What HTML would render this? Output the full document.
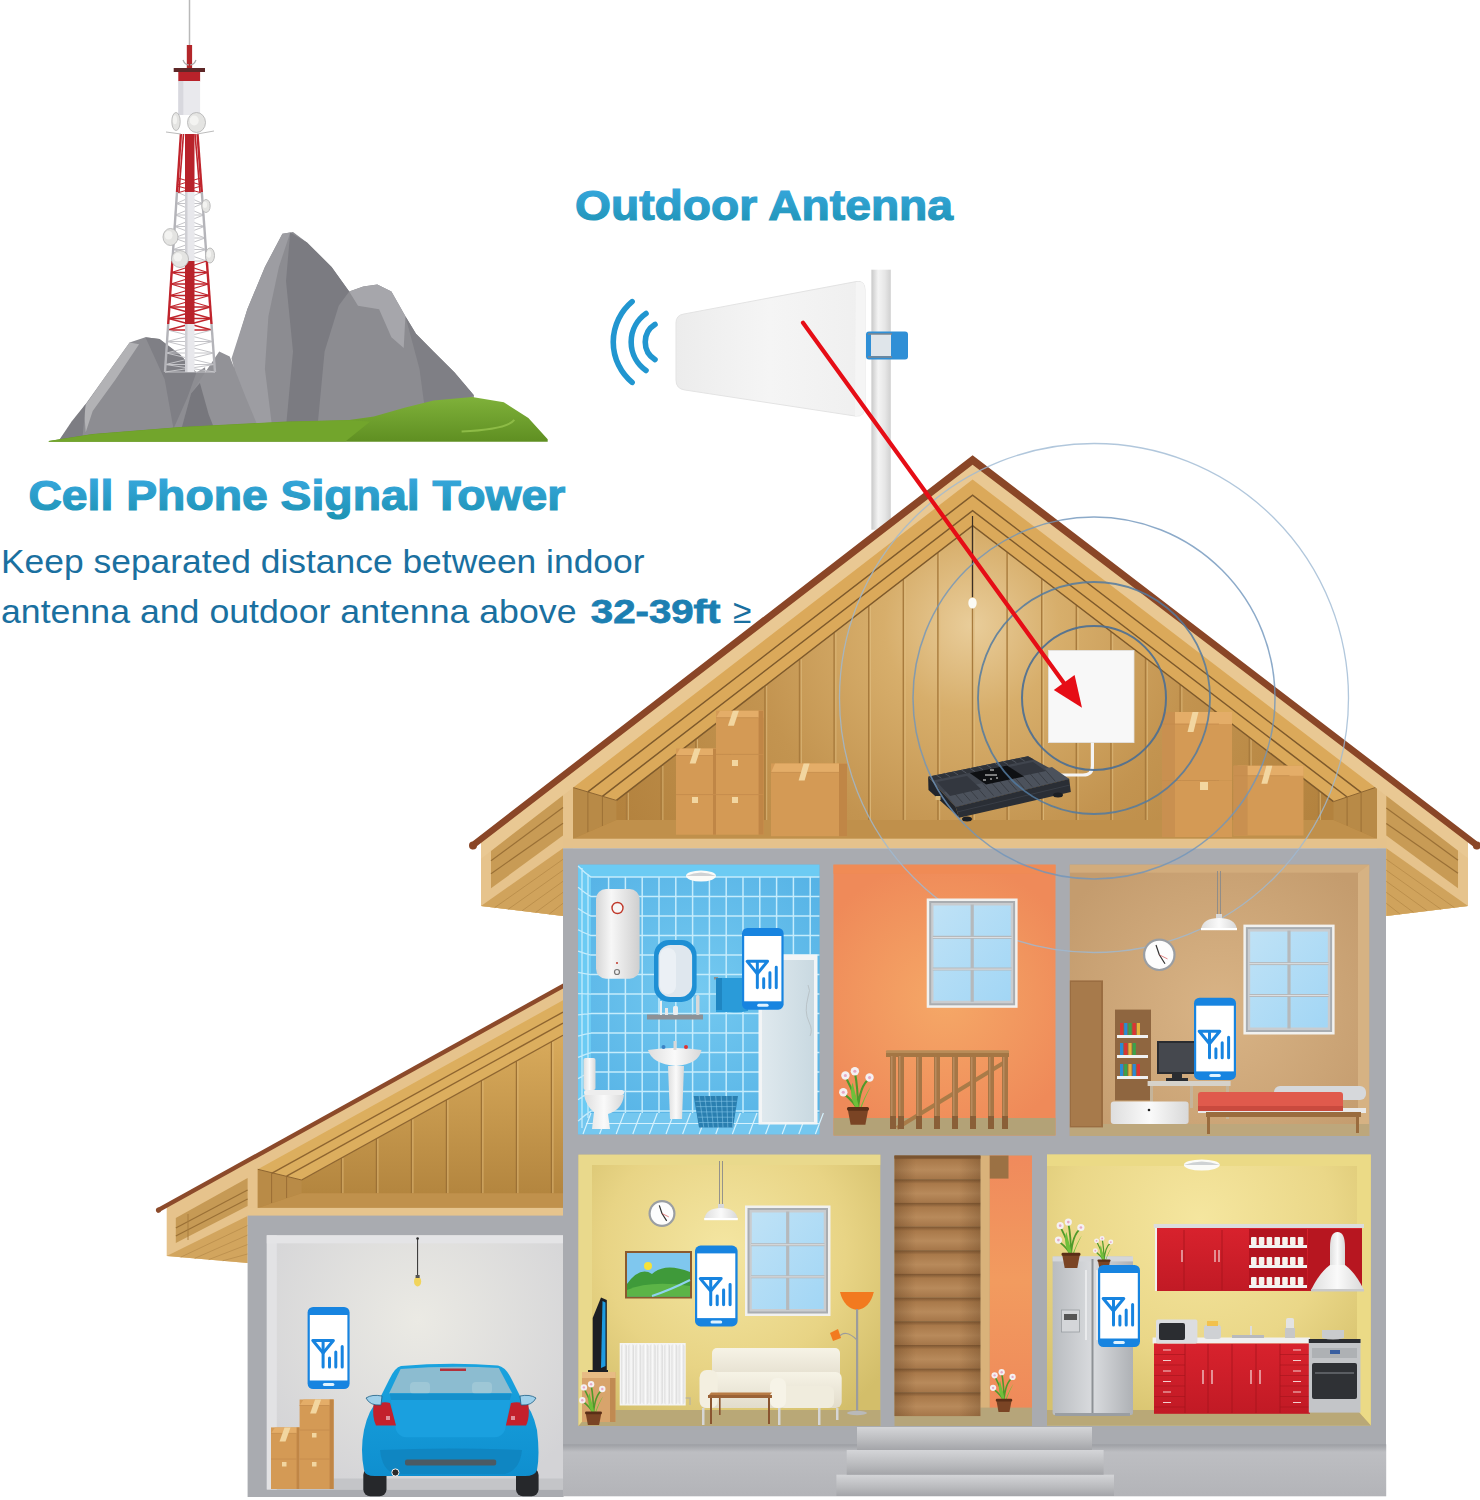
<!DOCTYPE html><html><head><meta charset="utf-8"><style>html,body{margin:0;padding:0;background:#fff;overflow:hidden}svg{display:block}</style></head><body><svg width="1480" height="1500" viewBox="0 0 1480 1500"><defs>
<linearGradient id="txtg" x1="0" y1="0" x2="0" y2="1"><stop offset="0" stop-color="#3aa9e2"/><stop offset="1" stop-color="#1d93b3"/></linearGradient>
<linearGradient id="poleg" x1="0" y1="0" x2="1" y2="0"><stop offset="0" stop-color="#c9c9c9"/><stop offset="0.35" stop-color="#f4f4f4"/><stop offset="0.7" stop-color="#e6e6e6"/><stop offset="1" stop-color="#d0d0d0"/></linearGradient>
<linearGradient id="antg" x1="0" y1="0" x2="1" y2="0"><stop offset="0" stop-color="#ececec"/><stop offset="0.5" stop-color="#f5f5f5"/><stop offset="1" stop-color="#efefef"/></linearGradient>
<radialGradient id="atticg" cx="972" cy="625" r="400" gradientUnits="userSpaceOnUse"><stop offset="0" stop-color="#e9cd9a"/><stop offset="0.22" stop-color="#d7ae6b"/><stop offset="0.55" stop-color="#c39450"/><stop offset="1" stop-color="#b3823e"/></radialGradient>
<linearGradient id="studg" x1="0" y1="0" x2="0" y2="1"><stop offset="0" stop-color="#d8ad62"/><stop offset="1" stop-color="#b8883f"/></linearGradient>
<radialGradient id="orangeg" cx="945" cy="1000" r="140" gradientUnits="userSpaceOnUse"><stop offset="0" stop-color="#f5a867"/><stop offset="1" stop-color="#ef8a59"/></radialGradient>
<radialGradient id="bedg" cx="1220" cy="1010" r="180" gradientUnits="userSpaceOnUse"><stop offset="0" stop-color="#d9b486"/><stop offset="1" stop-color="#c49c6e"/></radialGradient>
<radialGradient id="liveg" cx="725" cy="1250" r="200" gradientUnits="userSpaceOnUse"><stop offset="0" stop-color="#f4e6a2"/><stop offset="0.6" stop-color="#e8d485"/><stop offset="1" stop-color="#d3be6a"/></radialGradient>
<radialGradient id="kitg" cx="1200" cy="1220" r="220" gradientUnits="userSpaceOnUse"><stop offset="0" stop-color="#f5e69f"/><stop offset="0.6" stop-color="#ead788"/><stop offset="1" stop-color="#d6c16c"/></radialGradient>
<radialGradient id="garg" cx="418" cy="1320" r="190" gradientUnits="userSpaceOnUse"><stop offset="0" stop-color="#ebeae4"/><stop offset="1" stop-color="#d3d3d6"/></radialGradient>
<linearGradient id="hallg" x1="0" y1="0" x2="0" y2="1"><stop offset="0" stop-color="#f08a5c"/><stop offset="0.5" stop-color="#f29b5f"/><stop offset="1" stop-color="#ef8a5a"/></linearGradient>
<linearGradient id="fridgeg" x1="0" y1="0" x2="1" y2="0"><stop offset="0" stop-color="#b9bcc0"/><stop offset="0.5" stop-color="#d9dbde"/><stop offset="1" stop-color="#aeb1b5"/></linearGradient>
<linearGradient id="stepg" x1="0" y1="0" x2="0" y2="1"><stop offset="0" stop-color="#d4d5d8"/><stop offset="0.6" stop-color="#b9babd"/><stop offset="1" stop-color="#a4a5a9"/></linearGradient>
<linearGradient id="foundg" x1="0" y1="0" x2="0" y2="1"><stop offset="0" stop-color="#9c9ea3"/><stop offset="0.15" stop-color="#bdbec2"/><stop offset="1" stop-color="#b3b4b8"/></linearGradient>
<linearGradient id="glassg" x1="0" y1="0" x2="1" y2="0"><stop offset="0" stop-color="#a9d9f5"/><stop offset="0.5" stop-color="#c9e9fb"/><stop offset="1" stop-color="#9fd3f3"/></linearGradient>
<linearGradient id="carg" x1="0" y1="0" x2="0" y2="1"><stop offset="0" stop-color="#19a3df"/><stop offset="1" stop-color="#0f8fcf"/></linearGradient>
<clipPath id="mainclip"><rect x="481" y="0" width="987" height="1500"/></clipPath>
<clipPath id="garclip"><rect x="166" y="0" width="397" height="1500"/></clipPath>
</defs>
<rect width="1480" height="1500" fill="#ffffff"/>
<g font-family="Liberation Sans, sans-serif">
<text x="575" y="219.7" font-size="42.5" font-weight="bold" fill="url(#txtg)" stroke="url(#txtg)" stroke-width="1.2" textLength="378" lengthAdjust="spacingAndGlyphs">Outdoor Antenna</text>
<text x="28.4" y="510" font-size="42" font-weight="bold" fill="url(#txtg)" stroke="url(#txtg)" stroke-width="1.2" textLength="537" lengthAdjust="spacingAndGlyphs">Cell Phone Signal Tower</text>
<text x="1" y="572.6" font-size="33.5" fill="#1a70a0" textLength="643.5" lengthAdjust="spacingAndGlyphs">Keep separated distance between indoor</text>
<text x="1" y="622.6" font-size="33.5" fill="#1a70a0" textLength="575.5" lengthAdjust="spacingAndGlyphs">antenna and outdoor antenna above</text>
<text x="590.8" y="622.6" font-size="33.5" font-weight="bold" fill="#1c7fb2" stroke="#1c7fb2" stroke-width="0.8" textLength="129.6" lengthAdjust="spacingAndGlyphs">32-39ft</text>
<text x="733" y="622.6" font-size="33.5" fill="#1a70a0">≥</text>
</g>
<polygon points="222.7,439.2 236.8,344.3 247.3,309.2 264.9,267.0 282.4,233.7 293.0,231.9 307.0,242.4 331.6,267.0 349.2,291.6 363.3,286.4 377.3,284.6 391.4,291.6 405.4,316.2 416.0,333.8 433.5,351.4 454.6,372.5 473.9,395.3 473.9,439.2" fill="#8c8c91"/>
<polygon points="231.5,358.4 247.3,309.2 264.9,267.0 282.4,233.7 290.2,232.6 278.9,267.0 268.4,316.2 264.9,368.9 271.9,425.2 250.8,428.7" fill="#9d9da2"/>
<polygon points="290.2,232.6 307.0,242.4 331.6,267.0 349.2,291.6 338.7,305.7 324.6,351.4 317.6,425.2 286.0,426.9 293.0,351.4 286.0,281.1" fill="#7b7b81"/>
<polygon points="349.2,291.6 363.3,286.4 377.3,284.6 391.4,291.6 405.4,316.2 403.7,347.9 391.4,337.3 379.1,309.2 358.0,305.7" fill="#a6a6ab"/>
<polygon points="405.4,316.2 416.0,333.8 433.5,351.4 454.6,372.5 473.9,395.3 426.5,421.6 419.5,368.9" fill="#7f7f85"/>
<polygon points="59.3,439.9 85.7,404.1 103.2,379.5 129.6,342.6 145.4,337.3 159.5,339.1 180.5,354.9 196.4,372.5 205.1,367.2 208.7,439.2" fill="#8d8d92"/>
<polygon points="83.9,407.6 103.2,379.5 129.6,342.6 139.1,344.3 115.5,379.5 92.7,411.1 85.7,432.2" fill="#b2b2b5"/>
<polygon points="145.4,337.3 159.5,339.1 180.5,354.9 196.4,372.5 187.6,397.0 173.5,428.7 164.7,379.5" fill="#7f7f85"/>
<polygon points="59.3,439.9 71.6,421.6 85.7,404.1 82.2,439.9" fill="#7d7d83"/>
<polygon points="180.5,432.2 191.1,393.5 205.1,372.5 219.2,351.4 229.7,356.6 245.6,397.0 259.6,430.4" fill="#929297"/>
<polygon points="180.5,432.2 191.1,393.5 199.9,383.0 208.7,414.6 215.7,432.2" fill="#77777d"/>
<linearGradient id="grg" x1="0" y1="0" x2="0" y2="1"><stop offset="0" stop-color="#7fb13a"/><stop offset="1" stop-color="#5f8f22"/></linearGradient>
<polygon points="48.8,441.0 92.7,433.9 180.5,426.9 286.0,421.6 349.2,419.9 373.8,416.4 405.4,407.6 433.5,400.6 472.2,397.0 503.8,402.3 528.4,418.1 547.7,439.2 547.7,441.7 48.8,441.7" fill="url(#grg)"/>
<polygon points="48.8,441.0 92.7,434.3 180.5,427.3 286.0,422.0 349.2,420.2 370.3,421.6 345.7,441.3 48.8,441.7" fill="#72a52c"/>
<path d="M461.6,431.5 Q507.3,429.4 514.3,419.9" stroke="#8dbb46" stroke-width="2" fill="none"/>
<g>
<line x1="189.5" y1="0" x2="189.5" y2="46" stroke="#b9b9b9" stroke-width="1.5"/>
<rect x="186.8" y="45" width="5.3" height="23" fill="#b3262a"/>
<path d="M183,60 q2,5 6,5 M196,60 q-2,5 -6,5" stroke="#aaa" stroke-width="1.2" fill="none"/>
<rect x="173.7" y="68" width="31.3" height="4" fill="#5e2727"/>
<rect x="178.3" y="72" width="21.8" height="9.5" fill="#b8222a"/>
<rect x="178.3" y="81" width="21.8" height="34" fill="#e9e9ed"/>
<rect x="178.3" y="81" width="5" height="34" fill="#d8d8de"/>
<line x1="177.0" y1="192.0" x2="202.6" y2="203.5" stroke="#c4c4c8" stroke-width="1.0"/>
<line x1="201.8" y1="192.0" x2="176.3" y2="203.5" stroke="#c4c4c8" stroke-width="1.0"/>
<line x1="176.3" y1="203.5" x2="202.6" y2="203.5" stroke="#c4c4c8" stroke-width="1.0"/>
<line x1="176.3" y1="203.5" x2="203.5" y2="215.0" stroke="#c4c4c8" stroke-width="1.0"/>
<line x1="202.6" y1="203.5" x2="175.5" y2="215.0" stroke="#c4c4c8" stroke-width="1.0"/>
<line x1="175.5" y1="215.0" x2="203.5" y2="215.0" stroke="#c4c4c8" stroke-width="1.0"/>
<line x1="175.5" y1="215.0" x2="204.3" y2="226.5" stroke="#c4c4c8" stroke-width="1.0"/>
<line x1="203.5" y1="215.0" x2="174.7" y2="226.5" stroke="#c4c4c8" stroke-width="1.0"/>
<line x1="174.7" y1="226.5" x2="204.3" y2="226.5" stroke="#c4c4c8" stroke-width="1.0"/>
<line x1="174.7" y1="226.5" x2="205.1" y2="238.0" stroke="#c4c4c8" stroke-width="1.0"/>
<line x1="204.3" y1="226.5" x2="174.0" y2="238.0" stroke="#c4c4c8" stroke-width="1.0"/>
<line x1="174.0" y1="238.0" x2="205.1" y2="238.0" stroke="#c4c4c8" stroke-width="1.0"/>
<line x1="174.0" y1="238.0" x2="206.0" y2="249.5" stroke="#c4c4c8" stroke-width="1.0"/>
<line x1="205.1" y1="238.0" x2="173.2" y2="249.5" stroke="#c4c4c8" stroke-width="1.0"/>
<line x1="173.2" y1="249.5" x2="206.0" y2="249.5" stroke="#c4c4c8" stroke-width="1.0"/>
<line x1="173.2" y1="249.5" x2="206.8" y2="261.0" stroke="#c4c4c8" stroke-width="1.0"/>
<line x1="206.0" y1="249.5" x2="172.4" y2="261.0" stroke="#c4c4c8" stroke-width="1.0"/>
<line x1="172.4" y1="261.0" x2="206.8" y2="261.0" stroke="#c4c4c8" stroke-width="1.0"/>
<line x1="172.4" y1="261.0" x2="207.7" y2="272.5" stroke="#c0242c" stroke-width="1.3"/>
<line x1="206.8" y1="261.0" x2="171.6" y2="272.5" stroke="#c0242c" stroke-width="1.3"/>
<line x1="171.6" y1="272.5" x2="207.7" y2="272.5" stroke="#c0242c" stroke-width="1.3"/>
<line x1="171.6" y1="272.5" x2="208.5" y2="284.0" stroke="#c0242c" stroke-width="1.3"/>
<line x1="207.7" y1="272.5" x2="170.9" y2="284.0" stroke="#c0242c" stroke-width="1.3"/>
<line x1="170.9" y1="284.0" x2="208.5" y2="284.0" stroke="#c0242c" stroke-width="1.3"/>
<line x1="170.9" y1="284.0" x2="209.4" y2="295.5" stroke="#c0242c" stroke-width="1.3"/>
<line x1="208.5" y1="284.0" x2="170.1" y2="295.5" stroke="#c0242c" stroke-width="1.3"/>
<line x1="170.1" y1="295.5" x2="209.4" y2="295.5" stroke="#c0242c" stroke-width="1.3"/>
<line x1="170.1" y1="295.5" x2="210.2" y2="307.0" stroke="#c0242c" stroke-width="1.3"/>
<line x1="209.4" y1="295.5" x2="169.3" y2="307.0" stroke="#c0242c" stroke-width="1.3"/>
<line x1="169.3" y1="307.0" x2="210.2" y2="307.0" stroke="#c0242c" stroke-width="1.3"/>
<line x1="169.3" y1="307.0" x2="211.1" y2="318.5" stroke="#c0242c" stroke-width="1.3"/>
<line x1="210.2" y1="307.0" x2="168.6" y2="318.5" stroke="#c0242c" stroke-width="1.3"/>
<line x1="168.6" y1="318.5" x2="211.1" y2="318.5" stroke="#c0242c" stroke-width="1.3"/>
<line x1="168.6" y1="318.5" x2="211.9" y2="330.0" stroke="#c0242c" stroke-width="1.3"/>
<line x1="211.1" y1="318.5" x2="167.8" y2="330.0" stroke="#c0242c" stroke-width="1.3"/>
<line x1="167.8" y1="330.0" x2="211.9" y2="330.0" stroke="#c0242c" stroke-width="1.3"/>
<line x1="167.8" y1="330.0" x2="212.8" y2="341.5" stroke="#c4c4c8" stroke-width="1.0"/>
<line x1="211.9" y1="330.0" x2="167.0" y2="341.5" stroke="#c4c4c8" stroke-width="1.0"/>
<line x1="167.0" y1="341.5" x2="212.8" y2="341.5" stroke="#c4c4c8" stroke-width="1.0"/>
<line x1="167.0" y1="341.5" x2="213.6" y2="353.0" stroke="#c4c4c8" stroke-width="1.0"/>
<line x1="212.8" y1="341.5" x2="166.3" y2="353.0" stroke="#c4c4c8" stroke-width="1.0"/>
<line x1="166.3" y1="353.0" x2="213.6" y2="353.0" stroke="#c4c4c8" stroke-width="1.0"/>
<line x1="166.3" y1="353.0" x2="214.4" y2="364.5" stroke="#c4c4c8" stroke-width="1.0"/>
<line x1="213.6" y1="353.0" x2="165.5" y2="364.5" stroke="#c4c4c8" stroke-width="1.0"/>
<line x1="165.5" y1="364.5" x2="214.4" y2="364.5" stroke="#c4c4c8" stroke-width="1.0"/>
<line x1="165.5" y1="364.5" x2="215.0" y2="372.0" stroke="#c4c4c8" stroke-width="1.0"/>
<line x1="214.4" y1="364.5" x2="165.0" y2="372.0" stroke="#c4c4c8" stroke-width="1.0"/>
<line x1="165.0" y1="372.0" x2="215.0" y2="372.0" stroke="#c4c4c8" stroke-width="1.0"/>
<line x1="178.0" y1="178.0" x2="201.2" y2="185.0" stroke="#c0242c" stroke-width="1.0"/>
<line x1="200.7" y1="178.0" x2="177.5" y2="185.0" stroke="#c0242c" stroke-width="1.0"/>
<line x1="177.4" y1="186.0" x2="201.8" y2="193.0" stroke="#c0242c" stroke-width="1.0"/>
<line x1="201.3" y1="186.0" x2="177.0" y2="193.0" stroke="#c0242c" stroke-width="1.0"/>
<rect x="185" y="134" width="9.5" height="58" fill="#b8222a"/>
<rect x="185" y="192" width="9.5" height="69" fill="#e8e8ec"/>
<rect x="185" y="261" width="9.5" height="63" fill="#b8222a"/>
<rect x="185" y="324" width="9.5" height="48" fill="#e8e8ec"/>
<rect x="185" y="192" width="2.5" height="69" fill="#cfcfd4"/><rect x="185" y="324" width="2.5" height="48" fill="#cfcfd4"/>
<line x1="180.9" y1="134.0" x2="177.0" y2="192.0" stroke="#c0242c" stroke-width="2.4"/>
<line x1="197.5" y1="134.0" x2="201.8" y2="192.0" stroke="#c0242c" stroke-width="2.4"/>
<line x1="177.0" y1="192.0" x2="172.4" y2="261.0" stroke="#b4b4b9" stroke-width="2.4"/>
<line x1="201.8" y1="192.0" x2="206.8" y2="261.0" stroke="#b4b4b9" stroke-width="2.4"/>
<line x1="172.4" y1="261.0" x2="168.2" y2="324.0" stroke="#c0242c" stroke-width="2.4"/>
<line x1="206.8" y1="261.0" x2="211.5" y2="324.0" stroke="#c0242c" stroke-width="2.4"/>
<line x1="168.2" y1="324.0" x2="165.0" y2="372.0" stroke="#b4b4b9" stroke-width="2.4"/>
<line x1="211.5" y1="324.0" x2="215.0" y2="372.0" stroke="#b4b4b9" stroke-width="2.4"/>
<line x1="183.5" y1="134.0" x2="179.0" y2="192.0" stroke="#c0242c" stroke-width="1.6"/>
<line x1="195.0" y1="134.0" x2="200.0" y2="192.0" stroke="#c0242c" stroke-width="1.6"/>
<ellipse cx="176" cy="121.5" rx="4.2" ry="9" fill="#e4e4e2" stroke="#b0b0b0" stroke-width="0.8"/>
<ellipse cx="174.9" cy="119.7" rx="2.1" ry="4.5" fill="#f3f3f1"/>
<ellipse cx="196.5" cy="122.5" rx="9" ry="10" fill="#e4e4e2" stroke="#b0b0b0" stroke-width="0.8"/>
<ellipse cx="194.2" cy="120.5" rx="4.5" ry="5.0" fill="#f3f3f1"/>
<ellipse cx="170.5" cy="237" rx="7.5" ry="8.5" fill="#e4e4e2" stroke="#b0b0b0" stroke-width="0.8"/>
<ellipse cx="168.6" cy="235.3" rx="3.8" ry="4.2" fill="#f3f3f1"/>
<ellipse cx="180" cy="259" rx="8.5" ry="8.5" fill="#e4e4e2" stroke="#b0b0b0" stroke-width="0.8"/>
<ellipse cx="177.9" cy="257.3" rx="4.2" ry="4.2" fill="#f3f3f1"/>
<ellipse cx="206" cy="206" rx="4.2" ry="6.5" fill="#e4e4e2" stroke="#b0b0b0" stroke-width="0.8"/>
<ellipse cx="204.9" cy="204.7" rx="2.1" ry="3.2" fill="#f3f3f1"/>
<ellipse cx="210" cy="255.5" rx="4.5" ry="7.5" fill="#e4e4e2" stroke="#b0b0b0" stroke-width="0.8"/>
<ellipse cx="208.9" cy="254.0" rx="2.2" ry="3.8" fill="#f3f3f1"/>
<path d="M166,132 L181,134 M214,131 L197,134" stroke="#aaa" stroke-width="0.8"/>
</g>
<rect x="871.4" y="269.7" width="19.4" height="260" fill="url(#poleg)"/>
<path d="M684,314 L856,281.6 Q865,280 865,290 L865,406 Q865,417 855,416 L685,390 Q676,389 676,380 L676,323 Q676,315 684,314 Z" fill="url(#antg)" stroke="#e3e3e3" stroke-width="1"/>
<path d="M856,282 Q865,280 865,290 L865,406 Q865,417 855,416 Z" fill="#f5f5f5"/>
<rect x="866" y="331.4" width="42" height="28" rx="3" fill="#2f8fd6"/>
<rect x="871" y="334" width="20" height="22" fill="#dfe5ea"/>
<path d="M868,334 h24 M868,357 h24" stroke="#7d8790" stroke-width="1.6"/>
<path d="M632.1,301.6 A52.7,52.7 0 0 0 632.1,382.4" stroke="#2196d0" stroke-width="5.6" fill="none" stroke-linecap="round"/>
<path d="M646.0,313.5 A34.8,34.8 0 0 0 646.0,370.5" stroke="#2196d0" stroke-width="5.6" fill="none" stroke-linecap="round"/>
<path d="M655.0,324.4 A20.75,20.75 0 0 0 655.0,359.6" stroke="#2196d0" stroke-width="5.6" fill="none" stroke-linecap="round"/>
<polygon points="166.7,1206.5 563.0,987.1 563.0,1216.0 247.6,1216.0 247.6,1263.0 166.7,1256.0" fill="#e6c38c"/>
<linearGradient id="gatg" x1="0" y1="0" x2="0" y2="1"><stop offset="0" stop-color="#d9ab5c"/><stop offset="1" stop-color="#b0823c"/></linearGradient>
<polygon points="257.8,1169.3 301.6,1180.0 563.0,1035.3 563.0,1207.9 257.8,1207.9" fill="url(#gatg)"/>
<line x1="341.4" y1="1158.0" x2="341.4" y2="1193.3" stroke="#9c7135" stroke-width="1.3"/>
<line x1="342.9" y1="1158.0" x2="342.9" y2="1193.3" stroke="#e2bd7c" stroke-width="0.8"/>
<line x1="376.4" y1="1138.6" x2="376.4" y2="1193.3" stroke="#9c7135" stroke-width="1.3"/>
<line x1="377.9" y1="1138.6" x2="377.9" y2="1193.3" stroke="#e2bd7c" stroke-width="0.8"/>
<line x1="411.4" y1="1119.2" x2="411.4" y2="1193.3" stroke="#9c7135" stroke-width="1.3"/>
<line x1="412.9" y1="1119.2" x2="412.9" y2="1193.3" stroke="#e2bd7c" stroke-width="0.8"/>
<line x1="446.4" y1="1099.8" x2="446.4" y2="1193.3" stroke="#9c7135" stroke-width="1.3"/>
<line x1="447.9" y1="1099.8" x2="447.9" y2="1193.3" stroke="#e2bd7c" stroke-width="0.8"/>
<line x1="481.4" y1="1080.4" x2="481.4" y2="1193.3" stroke="#9c7135" stroke-width="1.3"/>
<line x1="482.9" y1="1080.4" x2="482.9" y2="1193.3" stroke="#e2bd7c" stroke-width="0.8"/>
<line x1="516.4" y1="1061.1" x2="516.4" y2="1193.3" stroke="#9c7135" stroke-width="1.3"/>
<line x1="517.9" y1="1061.1" x2="517.9" y2="1193.3" stroke="#e2bd7c" stroke-width="0.8"/>
<line x1="551.4" y1="1041.7" x2="551.4" y2="1193.3" stroke="#9c7135" stroke-width="1.3"/>
<line x1="552.9" y1="1041.7" x2="552.9" y2="1193.3" stroke="#e2bd7c" stroke-width="0.8"/>
<polygon points="257.8,1169.3 301.6,1180.0 301.6,1193.3 257.8,1207.9" fill="#b98b47"/>
<path d="M271.6,1173.4 V1203 M286.6,1176.2 V1198" stroke="#9a6e36" stroke-width="1"/>
<polygon points="257.8,1207.9 301.6,1193.3 563.0,1193.3 563.0,1207.9" fill="#c0914c"/>
<polygon points="257.8,1169.3 563.0,1000.3 563.0,1035.3 301.6,1180.0" fill="#dcae5e"/>
<line x1="271.6" y1="1173.4" x2="563" y2="1012.1" stroke="#8e6530" stroke-width="1.4"/>
<line x1="286.6" y1="1176.2" x2="563" y2="1023.2" stroke="#8e6530" stroke-width="1.4"/>
<line x1="301.6" y1="1180" x2="563" y2="1035.3" stroke="#8e6530" stroke-width="1.3"/>
<line x1="257.8" y1="1169.3" x2="301.6" y2="1180" stroke="#8e6530" stroke-width="1"/>
<polygon points="175.8,1218.0 247.6,1178.0 247.6,1206.0 175.8,1243.0" fill="#c69a55"/>
<line x1="175.8" y1="1228" x2="247.6" y2="1190" stroke="#9a7036" stroke-width="1.2"/>
<line x1="175.8" y1="1236" x2="247.6" y2="1199" stroke="#9a7036" stroke-width="1.1"/>
<line x1="188" y1="1214" x2="188" y2="1240" stroke="#a67a3c" stroke-width="0.9"/>
<polygon points="166.7,1256.0 247.6,1216.0 247.6,1263.0" fill="#d2a55e"/>
<line x1="180.7" y1="1257.2" x2="247.6" y2="1225.5" stroke="#b98d4b" stroke-width="0.8"/>
<line x1="194.7" y1="1258.4" x2="247.6" y2="1235.0" stroke="#b98d4b" stroke-width="0.8"/>
<line x1="208.7" y1="1259.6" x2="247.6" y2="1244.5" stroke="#b98d4b" stroke-width="0.8"/>
<line x1="222.7" y1="1260.8" x2="247.6" y2="1254.0" stroke="#b98d4b" stroke-width="0.8"/>
<rect x="247.6" y="1207.9" width="315.4" height="8" fill="#e6c48d"/>
<polygon points="157.5,1208.1 563.0,983.6 563.0,988.6 157.5,1213.1" fill="#8c4a2a"/>
<circle cx="158.5" cy="1210.1" r="2.6" fill="#8c4a2a"/>
<rect x="247.6" y="1215.6" width="316" height="281.4" fill="#a9abb0"/>
<rect x="266.8" y="1235.3" width="296.7" height="254.2" fill="url(#garg)"/>
<rect x="266.8" y="1235.3" width="10" height="254.2" fill="#e2e2e4"/>
<rect x="266.8" y="1235.3" width="296.7" height="8" fill="#e4e4e6"/>
<rect x="277" y="1478.5" width="286.5" height="11" fill="#c4c5c8"/>
<polygon points="481.0,839.4 972.6,460.2 1468.0,839.0 1468.0,906.0 1386.3,916.0 1386.3,848.3 563.0,848.3 563.0,916.0 481.0,906.0" fill="#d9ab60"/>
<polygon points="481.0,842.4 573.0,771.5 573.0,848.3 563.0,848.3 563.0,916.0 481.0,906.0" fill="#e6c38c"/>
<polygon points="1468.0,842.0 1376.8,772.3 1376.8,848.3 1386.3,848.3 1386.3,916.0 1468.0,906.0" fill="#e6c38c"/>
<polygon points="491.0,848.7 563.0,793.2 563.0,835.6 491.0,888.3" fill="#c89b55"/>
<line x1="491" y1="860.7" x2="563" y2="807.6" stroke="#9a7036" stroke-width="1.2"/>
<line x1="491" y1="873.7" x2="563" y2="823.2" stroke="#9a7036" stroke-width="1.2"/>
<polygon points="481.0,906.0 563.0,848.3 563.0,916.0" fill="#d0a35c"/>
<line x1="494.7" y1="907.6" x2="563" y2="859.3" stroke="#b68a48" stroke-width="0.8"/>
<line x1="508.3" y1="909.2" x2="563" y2="870.3" stroke="#b68a48" stroke-width="0.8"/>
<line x1="522.0" y1="910.8" x2="563" y2="881.3" stroke="#b68a48" stroke-width="0.8"/>
<line x1="535.7" y1="912.4" x2="563" y2="892.3" stroke="#b68a48" stroke-width="0.8"/>
<line x1="549.3" y1="914.0" x2="563" y2="903.3" stroke="#b68a48" stroke-width="0.8"/>
<polygon points="1458.0,848.3 1386.3,793.5 1386.3,835.6 1458.0,888.3" fill="#c89b55"/>
<line x1="1458" y1="860.3" x2="1386.3" y2="807.9" stroke="#9a7036" stroke-width="1.2"/>
<line x1="1458" y1="873.3" x2="1386.3" y2="823.5" stroke="#9a7036" stroke-width="1.2"/>
<polygon points="1468.0,906.0 1386.3,848.3 1386.3,916.0" fill="#d0a35c"/>
<line x1="1454.4" y1="907.6" x2="1386.3" y2="859.3" stroke="#b68a48" stroke-width="0.8"/>
<line x1="1440.8" y1="909.2" x2="1386.3" y2="870.3" stroke="#b68a48" stroke-width="0.8"/>
<line x1="1427.2" y1="910.8" x2="1386.3" y2="881.3" stroke="#b68a48" stroke-width="0.8"/>
<line x1="1413.5" y1="912.4" x2="1386.3" y2="892.3" stroke="#b68a48" stroke-width="0.8"/>
<line x1="1399.9" y1="914.0" x2="1386.3" y2="903.3" stroke="#b68a48" stroke-width="0.8"/>
<polygon points="573.0,787.5 616.4,800.4 972.6,525.7 1333.5,801.6 1376.8,787.0 1376.8,838.7 573.0,838.7" fill="url(#atticg)"/>
<line x1="626.5" y1="792.7" x2="626.5" y2="820" stroke="#a87b3d" stroke-width="1.4"/>
<line x1="628.3" y1="792.7" x2="628.3" y2="820" stroke="#e0bd80" stroke-width="0.9" opacity="0.8"/>
<line x1="661.1" y1="766.0" x2="661.1" y2="820" stroke="#a87b3d" stroke-width="1.4"/>
<line x1="662.9" y1="766.0" x2="662.9" y2="820" stroke="#e0bd80" stroke-width="0.9" opacity="0.8"/>
<line x1="695.7" y1="739.3" x2="695.7" y2="820" stroke="#a87b3d" stroke-width="1.4"/>
<line x1="697.5" y1="739.3" x2="697.5" y2="820" stroke="#e0bd80" stroke-width="0.9" opacity="0.8"/>
<line x1="730.3" y1="712.6" x2="730.3" y2="820" stroke="#a87b3d" stroke-width="1.4"/>
<line x1="732.1" y1="712.6" x2="732.1" y2="820" stroke="#e0bd80" stroke-width="0.9" opacity="0.8"/>
<line x1="764.9" y1="685.9" x2="764.9" y2="820" stroke="#a87b3d" stroke-width="1.4"/>
<line x1="766.7" y1="685.9" x2="766.7" y2="820" stroke="#e0bd80" stroke-width="0.9" opacity="0.8"/>
<line x1="799.5" y1="659.2" x2="799.5" y2="820" stroke="#a87b3d" stroke-width="1.4"/>
<line x1="801.3" y1="659.2" x2="801.3" y2="820" stroke="#e0bd80" stroke-width="0.9" opacity="0.8"/>
<line x1="834.1" y1="632.5" x2="834.1" y2="820" stroke="#a87b3d" stroke-width="1.4"/>
<line x1="835.9" y1="632.5" x2="835.9" y2="820" stroke="#e0bd80" stroke-width="0.9" opacity="0.8"/>
<line x1="868.7" y1="605.8" x2="868.7" y2="820" stroke="#a87b3d" stroke-width="1.4"/>
<line x1="870.5" y1="605.8" x2="870.5" y2="820" stroke="#e0bd80" stroke-width="0.9" opacity="0.8"/>
<line x1="903.3" y1="579.2" x2="903.3" y2="820" stroke="#a87b3d" stroke-width="1.4"/>
<line x1="905.1" y1="579.2" x2="905.1" y2="820" stroke="#e0bd80" stroke-width="0.9" opacity="0.8"/>
<line x1="937.9" y1="552.5" x2="937.9" y2="820" stroke="#a87b3d" stroke-width="1.4"/>
<line x1="939.7" y1="552.5" x2="939.7" y2="820" stroke="#e0bd80" stroke-width="0.9" opacity="0.8"/>
<line x1="972.5" y1="525.8" x2="972.5" y2="820" stroke="#a87b3d" stroke-width="1.4"/>
<line x1="974.3" y1="525.8" x2="974.3" y2="820" stroke="#e0bd80" stroke-width="0.9" opacity="0.8"/>
<line x1="1007.1" y1="552.1" x2="1007.1" y2="820" stroke="#a87b3d" stroke-width="1.4"/>
<line x1="1008.9" y1="552.1" x2="1008.9" y2="820" stroke="#e0bd80" stroke-width="0.9" opacity="0.8"/>
<line x1="1041.7" y1="578.5" x2="1041.7" y2="820" stroke="#a87b3d" stroke-width="1.4"/>
<line x1="1043.5" y1="578.5" x2="1043.5" y2="820" stroke="#e0bd80" stroke-width="0.9" opacity="0.8"/>
<line x1="1076.3" y1="605.0" x2="1076.3" y2="820" stroke="#a87b3d" stroke-width="1.4"/>
<line x1="1078.1" y1="605.0" x2="1078.1" y2="820" stroke="#e0bd80" stroke-width="0.9" opacity="0.8"/>
<line x1="1110.9" y1="631.4" x2="1110.9" y2="820" stroke="#a87b3d" stroke-width="1.4"/>
<line x1="1112.7" y1="631.4" x2="1112.7" y2="820" stroke="#e0bd80" stroke-width="0.9" opacity="0.8"/>
<line x1="1145.5" y1="657.9" x2="1145.5" y2="820" stroke="#a87b3d" stroke-width="1.4"/>
<line x1="1147.3" y1="657.9" x2="1147.3" y2="820" stroke="#e0bd80" stroke-width="0.9" opacity="0.8"/>
<line x1="1180.1" y1="684.4" x2="1180.1" y2="820" stroke="#a87b3d" stroke-width="1.4"/>
<line x1="1181.9" y1="684.4" x2="1181.9" y2="820" stroke="#e0bd80" stroke-width="0.9" opacity="0.8"/>
<line x1="1214.7" y1="710.8" x2="1214.7" y2="820" stroke="#a87b3d" stroke-width="1.4"/>
<line x1="1216.5" y1="710.8" x2="1216.5" y2="820" stroke="#e0bd80" stroke-width="0.9" opacity="0.8"/>
<line x1="1249.3" y1="737.3" x2="1249.3" y2="820" stroke="#a87b3d" stroke-width="1.4"/>
<line x1="1251.1" y1="737.3" x2="1251.1" y2="820" stroke="#e0bd80" stroke-width="0.9" opacity="0.8"/>
<line x1="1283.9" y1="763.7" x2="1283.9" y2="820" stroke="#a87b3d" stroke-width="1.4"/>
<line x1="1285.7" y1="763.7" x2="1285.7" y2="820" stroke="#e0bd80" stroke-width="0.9" opacity="0.8"/>
<line x1="1318.5" y1="790.2" x2="1318.5" y2="820" stroke="#a87b3d" stroke-width="1.4"/>
<line x1="1320.3" y1="790.2" x2="1320.3" y2="820" stroke="#e0bd80" stroke-width="0.9" opacity="0.8"/>
<polygon points="573.0,787.5 616.4,800.4 616.4,820.0 573.0,838.7" fill="#b88a47"/>
<polygon points="1376.8,787.0 1333.5,801.6 1333.5,820.0 1376.8,838.7" fill="#b88a47"/>
<line x1="587.9" y1="791.9" x2="587.9" y2="832.3" stroke="#9c7036" stroke-width="1"/>
<line x1="602.4" y1="796.3" x2="602.4" y2="826.1" stroke="#9c7036" stroke-width="1"/>
<line x1="1361.1" y1="792.3" x2="1361.1" y2="832.0" stroke="#9c7036" stroke-width="1"/>
<line x1="1347.1" y1="797.0" x2="1347.1" y2="825.9" stroke="#9c7036" stroke-width="1"/>
<polygon points="573.0,838.7 616.4,820.0 1333.5,820.0 1376.8,838.7" fill="#c0904b"/>
<polygon points="573.0,787.5 972.6,478.2 1376.8,787.0 1333.5,801.6 972.6,525.7 616.4,800.4" fill="#dba95a"/>
<polyline points="587.9,791.9 972.6,495.2 1361.1,792.3" stroke="#7e5a2c" stroke-width="1.5" fill="none"/>
<polyline points="602.4,796.3 972.6,510.7 1347.1,797.0" stroke="#7e5a2c" stroke-width="1.5" fill="none"/>
<polyline points="616.4,800.4 972.6,525.7 1333.5,801.6" stroke="#7e5a2c" stroke-width="1.5" fill="none"/>
<line x1="573" y1="787.5" x2="616.4" y2="800.4" stroke="#8e6632" stroke-width="1"/>
<line x1="1376.8" y1="787" x2="1333.5" y2="801.6" stroke="#8e6632" stroke-width="1"/>
<polygon points="481.0,842.4 972.6,463.2 1468.0,842.0 1468.0,858.3 972.6,479.5 481.0,858.7" fill="#e9c893"/>
<rect x="563" y="838.7" width="823.3" height="9.6" fill="#e5c28c"/>
<polygon points="472.5,841.5 972.6,455.2 1477.2,841.5 1477.2,849.5 972.6,464.7 472.5,849.5" fill="#8a4627"/>
<circle cx="473" cy="845.5" r="4" fill="#8a4627"/><circle cx="1476.8" cy="845.5" r="4" fill="#8a4627"/>
<rect x="563" y="848.3" width="823" height="597" fill="#a9abb0"/>
<rect x="578.1" y="864.7" width="241.3" height="269.6" fill="#5cb9ea"/>
<polygon points="578.1,864.7 819.4,864.7 819.4,877 591,877 591,1113 578.1,1134.3" fill="#6ccbf3"/>
<rect x="578.1" y="1113" width="241.3" height="21.3" fill="#74c7ef"/>
<radialGradient id="tileg" cx="700" cy="990" r="160" gradientUnits="userSpaceOnUse"><stop offset="0" stop-color="#74c9f0"/><stop offset="1" stop-color="#56b3e6"/></radialGradient>
<rect x="591" y="877" width="228.4" height="236" fill="url(#tileg)"/>
<path d="M608.6,877 V1113 M625.4,877 V1113 M642.2,877 V1113 M659.0,877 V1113 M675.8,877 V1113 M692.6,877 V1113 M709.4,877 V1113 M726.2,877 V1113 M743.0,877 V1113 M759.8,877 V1113 M776.6,877 V1113 M793.4,877 V1113 M810.2,877 V1113 M591,877.1 H819.4 M591,896.6 H819.4 M591,916.1 H819.4 M591,935.6 H819.4 M591,955.1 H819.4 M591,974.6 H819.4 M591,994.1 H819.4 M591,1013.6 H819.4 M591,1033.1 H819.4 M591,1052.6 H819.4 M591,1072.1 H819.4 M591,1091.6 H819.4 M591,1111.1 H819.4" stroke="#c4ecfc" stroke-width="1.5" fill="none"/>
<path d="M578.1,866.0 Q584.5,872.7 591,877.1 M578.1,887.3 Q584.5,892.9 591,896.6 M578.1,908.5 Q584.5,913.1 591,916.1 M578.1,929.8 Q584.5,933.3 591,935.6 M578.1,951.1 Q584.5,953.5 591,955.1 M578.1,972.3 Q584.5,973.7 591,974.6 M578.1,993.6 Q584.5,993.9 591,994.1 M578.1,1014.8 Q584.5,1014.1 591,1013.6 M578.1,1036.1 Q584.5,1034.3 591,1033.1 M578.1,1057.3 Q584.5,1054.5 591,1052.6 M578.1,1078.6 Q584.5,1074.7 591,1072.1 M578.1,1099.8 Q584.5,1094.9 591,1091.6 M578.1,1121.1 Q584.5,1115.1 591,1111.1 M582,868 V1128 M588,874 V1118" stroke="#c4ecfc" stroke-width="1.3" fill="none"/>
<path d="M591.0,1113 L583.0,1134 M607.6,1113 L599.6,1134 M624.2,1113 L616.2,1134 M640.8,1113 L632.8,1134 M657.4,1113 L649.4,1134 M674.0,1113 L666.0,1134 M690.6,1113 L682.6,1134 M707.2,1113 L699.2,1134 M723.8,1113 L715.8,1134 M740.4,1113 L732.4,1134 M757.0,1113 L749.0,1134 M773.6,1113 L765.6,1134 M790.2,1113 L782.2,1134 M806.8,1113 L798.8,1134 M823.4,1113 L815.4,1134 M586,1123.5 H819.4" stroke="#d5f1fd" stroke-width="1.2" fill="none"/>
<rect x="833.5" y="864.7" width="222" height="270.8" fill="url(#orangeg)"/>
<rect x="833.5" y="864.7" width="222" height="9" fill="#f08b55"/>
<rect x="833.5" y="1118" width="222" height="17.5" fill="#b3a277"/>
<rect x="1069.8" y="864.7" width="299.4" height="271.3" fill="url(#bedg)"/>
<rect x="1069.8" y="864.7" width="299.4" height="8" fill="#d2ac7c"/>
<polygon points="1358,873 1369.2,864.7 1369.2,1136 1358,1126" fill="#d6b283"/>
<rect x="1069.8" y="1124" width="299.4" height="12" fill="#bda77c"/>
<rect x="578.5" y="1154.7" width="301.8" height="271.3" fill="url(#liveg)"/>
<polygon points="578.5,1154.7 880.3,1154.7 880.3,1165 592,1165 592,1410 578.5,1426" fill="#e9d98c"/>
<polygon points="578.5,1426 592,1410 880.3,1410 880.3,1426" fill="#b9a877"/>
<rect x="1047" y="1154.6" width="323.8" height="270.9" fill="url(#kitg)"/>
<polygon points="1047,1154.6 1370.8,1154.6 1370.8,1425.5 1357,1410 1357,1166 1047,1166" fill="#ebda86"/>
<polygon points="1047,1410 1357,1410 1370.8,1425.5 1047,1425.5" fill="#b9a877"/>
<rect x="894.5" y="1155.6" width="137.5" height="270.4" fill="#b6a57a"/>
<rect x="989.5" y="1155.6" width="42.5" height="252" fill="url(#hallg)"/>
<rect x="989.5" y="1155.6" width="19" height="23" fill="#9b7144"/>
<rect x="980.4" y="1155.6" width="9.1" height="252" fill="#d9b27a"/>
<linearGradient id="treadg" x1="0" y1="0" x2="0" y2="1"><stop offset="0" stop-color="#7d5632"/><stop offset="0.18" stop-color="#a9794a"/><stop offset="0.6" stop-color="#b88a5b"/><stop offset="1" stop-color="#a57649"/></linearGradient>
<linearGradient id="treadh" x1="0" y1="0" x2="1" y2="0"><stop offset="0" stop-color="#5a3a1c" stop-opacity="0.35"/><stop offset="0.25" stop-color="#5a3a1c" stop-opacity="0"/><stop offset="0.75" stop-color="#5a3a1c" stop-opacity="0"/><stop offset="1" stop-color="#5a3a1c" stop-opacity="0.3"/></linearGradient>
<rect x="894.5" y="1155.6" width="85.9" height="23.8" fill="url(#treadg)"/>
<rect x="894.5" y="1179.3" width="85.9" height="23.8" fill="url(#treadg)"/>
<rect x="894.5" y="1202.9" width="85.9" height="23.8" fill="url(#treadg)"/>
<rect x="894.5" y="1226.6" width="85.9" height="23.8" fill="url(#treadg)"/>
<rect x="894.5" y="1250.3" width="85.9" height="23.8" fill="url(#treadg)"/>
<rect x="894.5" y="1273.9" width="85.9" height="23.8" fill="url(#treadg)"/>
<rect x="894.5" y="1297.6" width="85.9" height="23.8" fill="url(#treadg)"/>
<rect x="894.5" y="1321.3" width="85.9" height="23.8" fill="url(#treadg)"/>
<rect x="894.5" y="1345.0" width="85.9" height="23.8" fill="url(#treadg)"/>
<rect x="894.5" y="1368.6" width="85.9" height="23.8" fill="url(#treadg)"/>
<rect x="894.5" y="1392.3" width="85.9" height="23.8" fill="url(#treadg)"/>
<rect x="894.5" y="1155.6" width="85.9" height="260.4" fill="url(#treadh)"/>
<rect x="894.5" y="1155.6" width="85.9" height="3" fill="#7a5430"/>
<rect x="563" y="1444.3" width="823.2" height="52" fill="url(#foundg)"/>
<rect x="836.4" y="1474.7" width="277.6" height="21.3" fill="url(#stepg)"/>
<rect x="846.7" y="1450" width="256.9" height="24.7" fill="url(#stepg)"/>
<rect x="857" y="1427" width="235" height="23" fill="url(#stepg)"/>
<rect x="716" y="710.7" width="47.60000000000002" height="43.69999999999993" fill="#d49a55"/>
<polygon points="716,717.7 720,710.7 763.6,710.7 763.6,717.7" fill="#e4ad68"/>
<rect x="758.6" y="710.7" width="5" height="43.69999999999993" fill="#c08646"/>
<line x1="716" y1="717.7" x2="758.6" y2="717.7" stroke="#c48c4c" stroke-width="0.8"/>
<polygon points="727.91,725.7 733.91,725.7 738.91,710.7 732.91,710.7" fill="#f2d6a0"/>
<rect x="676" y="748.5" width="40" height="46.10000000000002" fill="#d49a55"/>
<polygon points="676,755.5 680,748.5 716,748.5 716,755.5" fill="#e4ad68"/>
<rect x="713" y="748.5" width="3" height="46.10000000000002" fill="#c08646"/>
<line x1="676" y1="755.5" x2="713" y2="755.5" stroke="#c48c4c" stroke-width="0.8"/>
<polygon points="689.65,763.5 695.65,763.5 700.65,748.5 694.65,748.5" fill="#f2d6a0"/>
<rect x="716" y="754.4" width="47.60000000000002" height="40.200000000000045" fill="#d49a55"/>
<polygon points="716,754.4 720,754.4 763.6,754.4 763.6,754.4" fill="#e4ad68"/>
<rect x="758.6" y="754.4" width="5" height="40.200000000000045" fill="#c08646"/>
<line x1="716" y1="754.4" x2="758.6" y2="754.4" stroke="#c48c4c" stroke-width="0.8"/>
<rect x="732" y="760" width="6" height="6" fill="#f2d6a0"/>
<rect x="676" y="794.6" width="40" height="40.10000000000002" fill="#d49a55"/>
<polygon points="676,794.6 680,794.6 716,794.6 716,794.6" fill="#e4ad68"/>
<rect x="713" y="794.6" width="3" height="40.10000000000002" fill="#c08646"/>
<line x1="676" y1="794.6" x2="713" y2="794.6" stroke="#c48c4c" stroke-width="0.8"/>
<rect x="692" y="797" width="6" height="6" fill="#f2d6a0"/>
<rect x="716" y="794.6" width="47.60000000000002" height="40.10000000000002" fill="#d49a55"/>
<polygon points="716,794.6 720,794.6 763.6,794.6 763.6,794.6" fill="#e4ad68"/>
<rect x="758.6" y="794.6" width="5" height="40.10000000000002" fill="#c08646"/>
<line x1="716" y1="794.6" x2="758.6" y2="794.6" stroke="#c48c4c" stroke-width="0.8"/>
<rect x="732" y="797" width="6" height="6" fill="#f2d6a0"/>
<rect x="771" y="763.4" width="76" height="72.80000000000007" fill="#d49a55"/>
<polygon points="771,772.4 775,763.4 847,763.4 847,772.4" fill="#e4ad68"/>
<rect x="839" y="763.4" width="8" height="72.80000000000007" fill="#c08646"/>
<line x1="771" y1="772.4" x2="839" y2="772.4" stroke="#c48c4c" stroke-width="0.8"/>
<polygon points="798.6,780.4 804.6,780.4 809.6,763.4 803.6,763.4" fill="#f2d6a0"/>
<rect x="1162" y="712" width="70" height="68.5" fill="#d49a55"/>
<polygon points="1162,724 1166,712 1232,712 1232,724" fill="#e4ad68"/>
<rect x="1162" y="712" width="13" height="68.5" fill="#c99050"/>
<line x1="1162" y1="724" x2="1219" y2="724" stroke="#c48c4c" stroke-width="0.8"/>
<polygon points="1187.5,732 1193.5,732 1198.5,712 1192.5,712" fill="#f2d6a0"/>
<rect x="1162" y="780.5" width="70" height="56.5" fill="#d49a55"/>
<polygon points="1162,780.5 1166,780.5 1232,780.5 1232,780.5" fill="#e4ad68"/>
<rect x="1162" y="780.5" width="13" height="56.5" fill="#c99050"/>
<line x1="1162" y1="780.5" x2="1219" y2="780.5" stroke="#c48c4c" stroke-width="0.8"/>
<rect x="1200" y="782" width="8" height="8" fill="#f2d6a0"/>
<rect x="1233.6" y="765.7" width="69.90000000000009" height="69.79999999999995" fill="#d49a55"/>
<polygon points="1233.6,775.7 1237.6,765.7 1303.5,765.7 1303.5,775.7" fill="#e4ad68"/>
<rect x="1233.6" y="765.7" width="14" height="69.79999999999995" fill="#c99050"/>
<line x1="1233.6" y1="775.7" x2="1289.5" y2="775.7" stroke="#c48c4c" stroke-width="0.8"/>
<polygon points="1261.345,783.7 1267.345,783.7 1272.345,765.7 1266.345,765.7" fill="#f2d6a0"/>
<line x1="972.5" y1="516" x2="972.5" y2="597" stroke="#3b2f25" stroke-width="1.2"/>
<ellipse cx="972.5" cy="603" rx="4.2" ry="5.5" fill="#fbfbf5"/>
<rect x="1048.5" y="650.4" width="85.5" height="92.2" fill="#f8f8f8" stroke="#e2e2e2" stroke-width="0.8"/>
<path d="M1092.4,742.6 V766 Q1092.4,775 1083,775 H1060" stroke="#f4f4f4" stroke-width="3.2" fill="none"/>
<polygon points="928.1,776.8 1028,756.2 1069.2,778.9 955.7,807" fill="#40454e"/>
<polygon points="928.1,776.8 1028,756.2 1034,759.5 933,780.5" fill="#2f333a"/>
<line x1="936.4" y1="775.1" x2="941.4" y2="778.3" stroke="#5d636d" stroke-width="0.7"/>
<line x1="944.8" y1="773.4" x2="949.8" y2="776.6" stroke="#5d636d" stroke-width="0.7"/>
<line x1="953.1" y1="771.6" x2="958.1" y2="774.9" stroke="#5d636d" stroke-width="0.7"/>
<line x1="961.4" y1="769.9" x2="966.4" y2="773.1" stroke="#5d636d" stroke-width="0.7"/>
<line x1="969.7" y1="768.2" x2="974.7" y2="771.4" stroke="#5d636d" stroke-width="0.7"/>
<line x1="978.0" y1="766.5" x2="983.0" y2="769.7" stroke="#5d636d" stroke-width="0.7"/>
<line x1="986.4" y1="764.8" x2="991.4" y2="768.0" stroke="#5d636d" stroke-width="0.7"/>
<line x1="994.7" y1="763.1" x2="999.7" y2="766.3" stroke="#5d636d" stroke-width="0.7"/>
<line x1="1003.0" y1="761.4" x2="1008.0" y2="764.6" stroke="#5d636d" stroke-width="0.7"/>
<line x1="1011.4" y1="759.6" x2="1016.4" y2="762.8" stroke="#5d636d" stroke-width="0.7"/>
<line x1="1019.7" y1="757.9" x2="1024.7" y2="761.1" stroke="#5d636d" stroke-width="0.7"/>
<polygon points="944,792 1052,767 1069.2,778.9 955.7,807" fill="#4c525c"/>
<line x1="951.7" y1="790.2" x2="962.7" y2="802.7" stroke="#33373e" stroke-width="0.8"/>
<line x1="959.4" y1="788.4" x2="970.4" y2="800.9" stroke="#33373e" stroke-width="0.8"/>
<line x1="967.1" y1="786.6" x2="978.1" y2="799.1" stroke="#33373e" stroke-width="0.8"/>
<line x1="974.9" y1="784.9" x2="985.9" y2="797.4" stroke="#33373e" stroke-width="0.8"/>
<line x1="982.6" y1="783.1" x2="993.6" y2="795.6" stroke="#33373e" stroke-width="0.8"/>
<line x1="990.3" y1="781.3" x2="1001.3" y2="793.8" stroke="#33373e" stroke-width="0.8"/>
<line x1="998.0" y1="779.5" x2="1009.0" y2="792.0" stroke="#33373e" stroke-width="0.8"/>
<line x1="1005.7" y1="777.7" x2="1016.7" y2="790.2" stroke="#33373e" stroke-width="0.8"/>
<line x1="1013.4" y1="775.9" x2="1024.4" y2="788.4" stroke="#33373e" stroke-width="0.8"/>
<line x1="1021.1" y1="774.1" x2="1032.1" y2="786.6" stroke="#33373e" stroke-width="0.8"/>
<line x1="1028.9" y1="772.4" x2="1039.9" y2="784.9" stroke="#33373e" stroke-width="0.8"/>
<line x1="1036.6" y1="770.6" x2="1047.6" y2="783.1" stroke="#33373e" stroke-width="0.8"/>
<line x1="1044.3" y1="768.8" x2="1055.3" y2="781.3" stroke="#33373e" stroke-width="0.8"/>
<polygon points="937,782 967,776 981,789 950,796" fill="#33373f"/>
<polygon points="1009,767 1033,762 1046,771 1022,776" fill="#33373f"/>
<polygon points="969.7,773 1007,765.5 1024,776.5 986,784.5" fill="#0e1013"/>
<path d="M990,770 h4 M985,775 h12 M983,780 l3,0 M990,779 l2,0 M996,778 l2,0" stroke="#e8e8e8" stroke-width="1"/>
<polygon points="955.7,807 1069.2,778.9 1070.8,792 959,817.8" fill="#2a2e35"/>
<polygon points="928.1,776.8 955.7,807 959,817.8 928.5,790" fill="#22262c"/>
<line x1="957" y1="812" x2="1070" y2="785" stroke="#3c414a" stroke-width="0.8"/>
<ellipse cx="967" cy="819" rx="5" ry="2.5" fill="#1c1f24"/><ellipse cx="1058" cy="795" rx="5" ry="2.5" fill="#1c1f24"/>
<rect x="935.5" y="796" width="5" height="4" fill="#d8b878"/>
<circle cx="1094" cy="698" r="72" fill="none" stroke="#4a6e94" stroke-width="2.0" opacity="0.9"/>
<circle cx="1094" cy="698" r="116" fill="none" stroke="#527aa0" stroke-width="1.8" opacity="0.85"/>
<circle cx="1094" cy="698" r="181" fill="none" stroke="#6f95bb" stroke-width="1.5" opacity="0.8"/>
<circle cx="1094" cy="698" r="254.5" fill="none" stroke="#9db9d3" stroke-width="1.3" opacity="0.8"/>
<line x1="803" y1="322.7" x2="1066" y2="686" stroke="#e60d16" stroke-width="4.2" stroke-linecap="round"/>
<polygon points="1082,707.7 1053.8,689.9 1074.6,675" fill="#e60d16"/>
<defs>
<linearGradient id="winglass" x1="0" y1="0" x2="1" y2="1"><stop offset="0" stop-color="#bfe2f6"/><stop offset="1" stop-color="#a2d6f5"/></linearGradient>
<linearGradient id="heaterg" x1="0" y1="0" x2="1" y2="0"><stop offset="0" stop-color="#d6d6d6"/><stop offset="0.35" stop-color="#f7f7f7"/><stop offset="1" stop-color="#cfcfcf"/></linearGradient>
<linearGradient id="whiteg" x1="0" y1="0" x2="1" y2="0"><stop offset="0" stop-color="#dedede"/><stop offset="0.5" stop-color="#fafafa"/><stop offset="1" stop-color="#d8d8d8"/></linearGradient>
<linearGradient id="sofag" x1="0" y1="0" x2="0" y2="1"><stop offset="0" stop-color="#f6f3e6"/><stop offset="1" stop-color="#e2dccb"/></linearGradient>
<linearGradient id="redg" x1="0" y1="0" x2="0" y2="1"><stop offset="0" stop-color="#d8222d"/><stop offset="1" stop-color="#c11a25"/></linearGradient>
<linearGradient id="showerg" x1="0" y1="0" x2="1" y2="0"><stop offset="0" stop-color="#dfe9ee"/><stop offset="1" stop-color="#c9d9e1"/></linearGradient>
</defs>
<ellipse cx="701" cy="876" rx="15.0" ry="5.5" fill="#fbfbf8"/><path d="M686.0,876 Q701,869 716.0,876" fill="#cfd2d4"/>
<rect x="596" y="889" width="43.6" height="89.7" rx="10" fill="url(#heaterg)"/>
<circle cx="617.5" cy="908" r="5.5" fill="#f6f6f6" stroke="#c0392b" stroke-width="1.4"/>
<circle cx="617" cy="972" r="2.5" fill="none" stroke="#777" stroke-width="1.2"/><circle cx="617" cy="963" r="1" fill="#c0392b"/>
<rect x="654" y="940" width="42.6" height="62" rx="15" fill="#1e8fd4"/>
<rect x="658.5" y="945" width="33.6" height="52" rx="12" fill="#dfe7ee"/>
<rect x="660" y="948" width="16" height="46" rx="8" fill="#eef3f6" opacity="0.8"/>
<rect x="647" y="1014.5" width="56" height="5" fill="#8d9196"/><rect x="696" y="995" width="3.5" height="20" rx="1.5" fill="#d9d9d9"/>
<rect x="660" y="1001" width="2" height="14" fill="#f0f0f0"/><rect x="665" y="1008" width="3" height="7" fill="#e9e9e9"/><rect x="673" y="1006" width="5" height="9" rx="1.5" fill="#eaeff2"/>
<rect x="714" y="977" width="4" height="2.5" fill="#8f8f8f"/>
<path d="M716,978 H748 V1011 Q740,1013 730,1012 H716 Z" fill="#2a9bd9"/>
<path d="M716,978 H722 V1010 H716 Z" fill="#1f86c2"/>
<rect x="758.5" y="954.5" width="59" height="170" fill="#f3f5f6"/>
<rect x="762" y="960" width="52" height="162" fill="url(#showerg)"/>
<path d="M808,985 q3,5 0,12 q-4,15 1,25 q4,8 1,14" stroke="#b9c3c8" stroke-width="1" fill="none"/>
<rect x="742" y="928" width="41.6" height="81.7" rx="5.4" fill="#1784e0"/>
<rect x="744.2" y="936.0" width="37.2" height="65.3" fill="#ffffff"/>
<rect x="757.2" y="1003.7" width="11.4" height="3.0" rx="1.5" fill="#dff3ff"/>
<g transform="translate(742,928) scale(0.990,0.996)" stroke="#1784e0" stroke-width="3" fill="none" stroke-linecap="round" stroke-linejoin="round"><path d="M5.2,33.5 H25.8 L15.5,46 Z"/><path d="M15.5,35 V60"/><path d="M21.9,51 V60 M28.2,45 V60 M34.6,39.5 V60"/></g>
<path d="M648,1050 Q674,1046 701.5,1050 Q699,1064 676,1066 Q652,1064 648,1050 Z" fill="url(#whiteg)"/>
<path d="M668,1066 H684 L682,1119 H670 Z" fill="url(#whiteg)"/>
<rect x="673.5" y="1041" width="3" height="9" fill="#d8d8d8"/><circle cx="663.5" cy="1047" r="2" fill="#3b82c4"/><circle cx="686" cy="1047" r="2" fill="#d33"/>
<rect x="583.5" y="1058" width="12" height="32" rx="2" fill="url(#whiteg)"/>
<path d="M584,1095 H624 Q622,1110 608,1114 L610,1129 H592 L594,1112 Q586,1106 584,1095 Z" fill="url(#whiteg)"/>
<rect x="584" y="1090" width="40" height="5" rx="2" fill="#eeeeee"/>
<path d="M693.7,1096 H738 L733,1127.6 H699 Z" fill="#2a7fb0"/>
<line x1="699.2" y1="1096" x2="703.8" y2="1127.6" stroke="#7fc3e6" stroke-width="0.6"/>
<line x1="704.7" y1="1096" x2="708.6" y2="1127.6" stroke="#7fc3e6" stroke-width="0.6"/>
<line x1="710.2" y1="1096" x2="713.4" y2="1127.6" stroke="#7fc3e6" stroke-width="0.6"/>
<line x1="715.7" y1="1096" x2="718.2" y2="1127.6" stroke="#7fc3e6" stroke-width="0.6"/>
<line x1="721.2" y1="1096" x2="723.0" y2="1127.6" stroke="#7fc3e6" stroke-width="0.6"/>
<line x1="726.7" y1="1096" x2="727.8" y2="1127.6" stroke="#7fc3e6" stroke-width="0.6"/>
<line x1="732.2" y1="1096" x2="732.6" y2="1127.6" stroke="#7fc3e6" stroke-width="0.6"/>
<line x1="695.4" y1="1101.3" x2="736.6" y2="1101.3" stroke="#7fc3e6" stroke-width="0.6"/>
<line x1="696.3" y1="1106.6" x2="735.7" y2="1106.6" stroke="#7fc3e6" stroke-width="0.6"/>
<line x1="697.2" y1="1111.9" x2="734.8" y2="1111.9" stroke="#7fc3e6" stroke-width="0.6"/>
<line x1="698.1" y1="1117.2" x2="733.9" y2="1117.2" stroke="#7fc3e6" stroke-width="0.6"/>
<line x1="699.0" y1="1122.5" x2="733.0" y2="1122.5" stroke="#7fc3e6" stroke-width="0.6"/>
<rect x="926.7" y="898.5" width="90.9" height="109.3" fill="#f1f1ef"/>
<rect x="929.2" y="901.0" width="85.9" height="104.3" fill="#a9adb1"/>
<rect x="931.2" y="903.0" width="81.9" height="100.3" fill="#c9cccf"/>
<rect x="933.5" y="905.5" width="77.3" height="95.3" fill="url(#winglass)"/>
<rect x="970.6" y="904.5" width="3.2" height="97.3" fill="#b5b9bc"/>
<rect x="932.7" y="935.8" width="78.9" height="3" fill="#b5b9bc"/>
<rect x="932.7" y="937.0" width="78.9" height="0.8" fill="#e6e8ea"/>
<rect x="932.7" y="967.5" width="78.9" height="3" fill="#b5b9bc"/>
<rect x="932.7" y="968.7" width="78.9" height="0.8" fill="#e6e8ea"/>
<rect x="886" y="1050.3" width="123" height="6" rx="1" fill="#b98c58"/>
<rect x="886" y="1053" width="123" height="4" fill="#a47644"/>
<path d="M897,1128 L1005,1062" stroke="#a97b48" stroke-width="4"/>
<rect x="890" y="1056" width="6" height="71.6" fill="#a67646"/>
<rect x="890" y="1116" width="6" height="13" fill="#8a5f38"/>
<rect x="891" y="1056" width="1.5" height="60" fill="#c19468" opacity="0.7"/>
<rect x="898" y="1056" width="6" height="71.6" fill="#a67646"/>
<rect x="898" y="1116" width="6" height="13" fill="#8a5f38"/>
<rect x="899" y="1056" width="1.5" height="60" fill="#c19468" opacity="0.7"/>
<rect x="916" y="1057" width="6" height="70.6" fill="#a67646"/>
<rect x="916" y="1116" width="6" height="13" fill="#8a5f38"/>
<rect x="917" y="1057" width="1.5" height="59" fill="#c19468" opacity="0.7"/>
<rect x="934" y="1057" width="6" height="70.6" fill="#a67646"/>
<rect x="934" y="1116" width="6" height="13" fill="#8a5f38"/>
<rect x="935" y="1057" width="1.5" height="59" fill="#c19468" opacity="0.7"/>
<rect x="952" y="1057" width="6" height="70.6" fill="#a67646"/>
<rect x="952" y="1116" width="6" height="13" fill="#8a5f38"/>
<rect x="953" y="1057" width="1.5" height="59" fill="#c19468" opacity="0.7"/>
<rect x="970" y="1057" width="6" height="70.6" fill="#a67646"/>
<rect x="970" y="1116" width="6" height="13" fill="#8a5f38"/>
<rect x="971" y="1057" width="1.5" height="59" fill="#c19468" opacity="0.7"/>
<rect x="988" y="1057" width="6" height="70.6" fill="#a67646"/>
<rect x="988" y="1116" width="6" height="13" fill="#8a5f38"/>
<rect x="989" y="1057" width="1.5" height="59" fill="#c19468" opacity="0.7"/>
<rect x="1002" y="1057" width="6" height="70.6" fill="#a67646"/>
<rect x="1002" y="1116" width="6" height="13" fill="#8a5f38"/>
<rect x="1003" y="1057" width="1.5" height="59" fill="#c19468" opacity="0.7"/>
<g transform="translate(858,1124.8) scale(1.05)">
<path d="M0,-14 C-3,-30 -9,-40 -12,-46 M0,-14 C1,-30 5,-40 11,-44 M0,-14 C0,-28 -1,-40 -3,-50 M0,-14 C-5,-24 -12,-28 -14,-30" stroke="#4f9a2a" stroke-width="2" fill="none"/>
<path d="M-2,-16 C-8,-26 -7,-36 -5,-40 C-3,-30 0,-22 1,-16 Z M2,-16 C6,-26 9,-32 12,-36 C8,-28 5,-22 3,-15 Z" fill="#6fbf3a"/>
<circle cx="-12" cy="-47" r="4" fill="#f4f0f2"/><circle cx="-12" cy="-47" r="1.5" fill="#e7a9c4"/>
<circle cx="11" cy="-45" r="4" fill="#f4f0f2"/><circle cx="11" cy="-45" r="1.5" fill="#e7a9c4"/>
<circle cx="-3" cy="-51" r="4" fill="#f4f0f2"/><circle cx="-3" cy="-51" r="1.5" fill="#e7a9c4"/>
<circle cx="-14" cy="-31" r="4" fill="#f4f0f2"/><circle cx="-14" cy="-31" r="1.5" fill="#e7a9c4"/>
<path d="M-10,-16 H10 L7,0 H-7 Z" fill="#7a4424"/><rect x="-10.5" y="-17" width="21" height="3.5" rx="1.5" fill="#5a2f17"/>
</g>
<line x1="1217.5" y1="871" x2="1217.5" y2="918" stroke="#8a8a8a" stroke-width="0.9"/><line x1="1220.5" y1="871" x2="1220.5" y2="918" stroke="#8a8a8a" stroke-width="0.9"/><rect x="1216" y="914" width="6" height="5" fill="#d9d9d9"/><path d="M1201.0,929 Q1203.0,918 1219,918 Q1235.0,918 1237.0,929 Z" fill="url(#whiteg)"/><rect x="1201.0" y="928" width="36" height="2.2" fill="#ffffff"/>
<circle cx="1159.3" cy="954.8" r="16.3" fill="#9a9ea3"/><circle cx="1159.3" cy="954.8" r="14.100000000000001" fill="#fdfdfd"/><path d="M1159.3,954.8 L1165.0,963.8 M1159.3,954.8 L1156.0,945.0" stroke="#333" stroke-width="1.2"/><path d="M1159.3,954.8 L1167.5,958.9" stroke="#c33" stroke-width="0.6"/>
<rect x="1243.4" y="924.6" width="91.2" height="109.9" fill="#f1f1ef"/>
<rect x="1245.9" y="927.1" width="86.2" height="104.9" fill="#a9adb1"/>
<rect x="1247.9" y="929.1" width="82.2" height="100.9" fill="#c9cccf"/>
<rect x="1250.2" y="931.6" width="77.6" height="95.9" fill="url(#winglass)"/>
<rect x="1287.4" y="930.6" width="3.2" height="97.9" fill="#b5b9bc"/>
<rect x="1249.4" y="962.1" width="79.2" height="3" fill="#b5b9bc"/>
<rect x="1249.4" y="963.3" width="79.2" height="0.8" fill="#e6e8ea"/>
<rect x="1249.4" y="994.0" width="79.2" height="3" fill="#b5b9bc"/>
<rect x="1249.4" y="995.2" width="79.2" height="0.8" fill="#e6e8ea"/>
<rect x="1069.8" y="980.4" width="33.2" height="147" fill="#9a6d41"/>
<rect x="1071" y="982" width="30" height="144" fill="#a77a4b"/>
<rect x="1115" y="1009.6" width="36" height="90.8" fill="#8f6640"/>
<rect x="1117" y="1035" width="31" height="3" fill="#f1f1f1"/>
<rect x="1120.0" y="1023" width="3.2" height="12" fill="#d33"/>
<rect x="1124.2" y="1023" width="3.2" height="12" fill="#2a8bd6"/>
<rect x="1128.4" y="1023" width="3.2" height="12" fill="#3aa34a"/>
<rect x="1132.6" y="1023" width="3.2" height="12" fill="#d33"/>
<rect x="1136.8" y="1023" width="3.2" height="12" fill="#e6b33a"/>
<rect x="1117" y="1055" width="31" height="3" fill="#f1f1f1"/>
<rect x="1120.0" y="1043" width="3.2" height="12" fill="#2a8bd6"/>
<rect x="1124.2" y="1043" width="3.2" height="12" fill="#d33"/>
<rect x="1128.4" y="1043" width="3.2" height="12" fill="#e6b33a"/>
<rect x="1132.6" y="1043" width="3.2" height="12" fill="#3aa34a"/>
<rect x="1117" y="1076" width="31" height="3" fill="#f1f1f1"/>
<rect x="1120.0" y="1064" width="3.2" height="12" fill="#2a8bd6"/>
<rect x="1124.2" y="1064" width="3.2" height="12" fill="#3aa34a"/>
<rect x="1128.4" y="1064" width="3.2" height="12" fill="#e6b33a"/>
<rect x="1132.6" y="1064" width="3.2" height="12" fill="#2a8bd6"/>
<rect x="1136.8" y="1064" width="3.2" height="12" fill="#d33"/>
<rect x="1157" y="1041" width="39" height="33" fill="#2a2c30"/><rect x="1159" y="1043" width="35" height="29" fill="#45484e"/>
<rect x="1172" y="1074" width="10" height="5" fill="#2a2c30"/><rect x="1166" y="1078" width="22" height="3" fill="#2a2c30"/>
<rect x="1147.6" y="1081" width="83" height="5" fill="#d6d2ca"/>
<rect x="1150" y="1086" width="3" height="33" fill="#c5b49a"/><rect x="1226" y="1086" width="3" height="33" fill="#c5b49a"/><rect x="1190" y="1086" width="3" height="22" fill="#c5b49a"/>
<rect x="1110.8" y="1101.5" width="77.8" height="22.5" rx="3" fill="url(#whiteg)"/><circle cx="1149" cy="1110" r="1.3" fill="#222"/>
<rect x="1194" y="997.7" width="42" height="82.2" rx="5.5" fill="#1784e0"/>
<rect x="1196.2" y="1005.7" width="37.6" height="65.7" fill="#ffffff"/>
<rect x="1209.3" y="1073.9" width="11.5" height="3.0" rx="1.5" fill="#dff3ff"/>
<g transform="translate(1194,997.7) scale(1.000,1.002)" stroke="#1784e0" stroke-width="3" fill="none" stroke-linecap="round" stroke-linejoin="round"><path d="M5.2,33.5 H25.8 L15.5,46 Z"/><path d="M15.5,35 V60"/><path d="M21.9,51 V60 M28.2,45 V60 M34.6,39.5 V60"/></g>
<rect x="1274" y="1086" width="92" height="14" rx="6" fill="#d6d8db"/>
<rect x="1198" y="1108" width="168" height="5" fill="#e9e9e9"/>
<rect x="1198" y="1092" width="145" height="19" rx="3" fill="#e05a4c"/>
<rect x="1198" y="1106" width="145" height="5" fill="#c94a3e"/>
<rect x="1206" y="1112" width="155" height="5" fill="#9a6c3e"/>
<rect x="1207" y="1117" width="3" height="17" fill="#9a6c3e"/><rect x="1356" y="1113" width="3" height="20" fill="#9a6c3e"/>
<circle cx="662" cy="1213.5" r="13.5" fill="#9a9ea3"/><circle cx="662" cy="1213.5" r="11.3" fill="#fdfdfd"/><path d="M662,1213.5 L666.7,1220.9 M662,1213.5 L659.3,1205.4" stroke="#333" stroke-width="1.2"/><path d="M662,1213.5 L668.8,1216.9" stroke="#c33" stroke-width="0.6"/>
<line x1="719.5" y1="1161" x2="719.5" y2="1208" stroke="#8a8a8a" stroke-width="0.9"/><line x1="722.5" y1="1161" x2="722.5" y2="1208" stroke="#8a8a8a" stroke-width="0.9"/><rect x="718" y="1204" width="6" height="5" fill="#d9d9d9"/><path d="M704.2,1219 Q706.2,1208 721,1208 Q735.8,1208 737.8,1219 Z" fill="url(#whiteg)"/><rect x="704.2" y="1218" width="33.6" height="2.2" fill="#ffffff"/>
<rect x="745" y="1205.5" width="85.5" height="110.5" fill="#f1f1ef"/>
<rect x="747.5" y="1208.0" width="80.5" height="105.5" fill="#a9adb1"/>
<rect x="749.5" y="1210.0" width="76.5" height="101.5" fill="#c9cccf"/>
<rect x="751.8" y="1212.5" width="71.9" height="96.5" fill="url(#winglass)"/>
<rect x="786.1" y="1211.5" width="3.2" height="98.5" fill="#b5b9bc"/>
<rect x="751" y="1243.2" width="73.5" height="3" fill="#b5b9bc"/>
<rect x="751" y="1244.4" width="73.5" height="0.8" fill="#e6e8ea"/>
<rect x="751" y="1275.3" width="73.5" height="3" fill="#b5b9bc"/>
<rect x="751" y="1276.5" width="73.5" height="0.8" fill="#e6e8ea"/>
<rect x="625" y="1251" width="67" height="47.5" fill="#8a5a2e"/>
<rect x="627" y="1253" width="63" height="43.5" fill="#7fc7ee"/>
<path d="M627,1284 Q640,1266 652,1274 Q665,1262 690,1272 V1296.5 H627 Z" fill="#3f9a3a"/>
<path d="M627,1290 Q650,1280 690,1286 V1296.5 H627 Z" fill="#5cb447"/>
<circle cx="648" cy="1266" r="4" fill="#f5e23a"/>
<path d="M652,1296 Q670,1290 690,1280" stroke="#8fd3f0" stroke-width="2" fill="none"/>
<rect x="695" y="1245.5" width="42.6" height="81" rx="5.6" fill="#1784e0"/>
<rect x="697.2" y="1253.4" width="38.1" height="64.7" fill="#ffffff"/>
<rect x="710.5" y="1320.6" width="11.7" height="3.0" rx="1.5" fill="#dff3ff"/>
<g transform="translate(695,1245.5) scale(1.014,0.988)" stroke="#1784e0" stroke-width="3" fill="none" stroke-linecap="round" stroke-linejoin="round"><path d="M5.2,33.5 H25.8 L15.5,46 Z"/><path d="M15.5,35 V60"/><path d="M21.9,51 V60 M28.2,45 V60 M34.6,39.5 V60"/></g>
<path d="M601,1297.4 L606.8,1300 V1370 L592.7,1374 V1318 Z" fill="#1d1f24"/>
<path d="M602.5,1301 L605.5,1302.5 V1366 L601,1368 Z" fill="#1e9be0"/>
<rect x="588" y="1370" width="20" height="3" fill="#1d1f24"/>
<rect x="582" y="1372" width="33.4" height="50" fill="#d8a46c"/><rect x="582" y="1372" width="33.4" height="6" fill="#e7bb84"/><rect x="610" y="1378" width="5.4" height="44" fill="#c08a52"/>
<g transform="translate(593.5,1425) scale(0.8)">
<path d="M0,-14 C-3,-30 -9,-40 -12,-46 M0,-14 C1,-30 5,-40 11,-44 M0,-14 C0,-28 -1,-40 -3,-50 M0,-14 C-5,-24 -12,-28 -14,-30" stroke="#4f9a2a" stroke-width="2" fill="none"/>
<path d="M-2,-16 C-8,-26 -7,-36 -5,-40 C-3,-30 0,-22 1,-16 Z M2,-16 C6,-26 9,-32 12,-36 C8,-28 5,-22 3,-15 Z" fill="#6fbf3a"/>
<circle cx="-12" cy="-47" r="4" fill="#f4f0f2"/><circle cx="-12" cy="-47" r="1.5" fill="#e7a9c4"/>
<circle cx="11" cy="-45" r="4" fill="#f4f0f2"/><circle cx="11" cy="-45" r="1.5" fill="#e7a9c4"/>
<circle cx="-3" cy="-51" r="4" fill="#f4f0f2"/><circle cx="-3" cy="-51" r="1.5" fill="#e7a9c4"/>
<circle cx="-14" cy="-31" r="4" fill="#f4f0f2"/><circle cx="-14" cy="-31" r="1.5" fill="#e7a9c4"/>
<path d="M-10,-16 H10 L7,0 H-7 Z" fill="#7a4424"/><rect x="-10.5" y="-17" width="21" height="3.5" rx="1.5" fill="#5a2f17"/>
</g>
<rect x="619.7" y="1343" width="66" height="62.5" fill="#f4f4f4"/>
<rect x="621.0" y="1344" width="5.8" height="60.5" rx="2.5" fill="url(#whiteg)"/>
<rect x="628.2" y="1344" width="5.8" height="60.5" rx="2.5" fill="url(#whiteg)"/>
<rect x="635.4" y="1344" width="5.8" height="60.5" rx="2.5" fill="url(#whiteg)"/>
<rect x="642.6" y="1344" width="5.8" height="60.5" rx="2.5" fill="url(#whiteg)"/>
<rect x="649.8" y="1344" width="5.8" height="60.5" rx="2.5" fill="url(#whiteg)"/>
<rect x="657.0" y="1344" width="5.8" height="60.5" rx="2.5" fill="url(#whiteg)"/>
<rect x="664.2" y="1344" width="5.8" height="60.5" rx="2.5" fill="url(#whiteg)"/>
<rect x="671.4" y="1344" width="5.8" height="60.5" rx="2.5" fill="url(#whiteg)"/>
<rect x="678.6" y="1344" width="5.8" height="60.5" rx="2.5" fill="url(#whiteg)"/>
<path d="M685.7,1398 H690 V1405" stroke="#bdb69a" stroke-width="1.5" fill="none"/>
<rect x="712" y="1348" width="128" height="34" rx="5" fill="url(#sofag)"/>
<rect x="699.7" y="1372" width="142" height="36" rx="6" fill="url(#sofag)"/>
<rect x="699.7" y="1370" width="18" height="38" rx="7" fill="#f3efe0"/>
<rect x="779" y="1386" width="55" height="22" rx="6" fill="#f0ecdd"/>
<rect x="770" y="1378" width="16" height="30" rx="7" fill="#f6f3e7"/>
<rect x="702" y="1408" width="2.5" height="17" fill="#d6d6d6"/><rect x="836" y="1408" width="2.5" height="12" fill="#d6d6d6"/><rect x="778" y="1408" width="2.5" height="17" fill="#d6d6d6"/><rect x="818" y="1408" width="2.5" height="17" fill="#d6d6d6"/>
<polygon points="709,1395 770,1395 772,1392.6 711,1392.6" fill="#b77b45"/><rect x="708" y="1395" width="64" height="3" fill="#9a6236"/>
<rect x="710" y="1398" width="2" height="26" fill="#8a5530"/><rect x="768" y="1398" width="2" height="26" fill="#8a5530"/><rect x="719" y="1398" width="1.6" height="17" fill="#8a5530"/>
<path d="M840,1292 H873.8 Q870,1308 857,1310 Q844,1308 840,1292 Z" fill="#f27a1f"/>
<rect x="856" y="1309" width="2.2" height="102" fill="#9c9c9c"/>
<path d="M857,1340 Q845,1328 838,1338" stroke="#9c9c9c" stroke-width="1.2" fill="none"/>
<path d="M830,1333 L838,1329 L841,1338 L833,1341 Z" fill="#f27a1f"/>
<ellipse cx="857" cy="1413" rx="10" ry="2.2" fill="#b9b9b9"/>
<ellipse cx="1201.8" cy="1165" rx="18.0" ry="5.5" fill="#fbfbf8"/><path d="M1183.8,1165 Q1201.8,1158 1219.8,1165" fill="#cfd2d4"/>
<rect x="1052.6" y="1256.4" width="80.4" height="158.6" rx="2" fill="url(#fridgeg)"/>
<rect x="1052.6" y="1256.4" width="80.4" height="5" fill="#d4d6d9"/>
<rect x="1091.5" y="1259" width="2" height="155" fill="#8d9195"/>
<rect x="1085" y="1270" width="2" height="70" fill="#e9eaec"/><rect x="1096" y="1270" width="2" height="70" fill="#e9eaec"/>
<rect x="1061.5" y="1310" width="18" height="22" fill="#d4d6d9" stroke="#9a9ea2" stroke-width="0.8"/><rect x="1064" y="1314" width="13" height="6" fill="#555"/>
<rect x="1055" y="1413" width="75" height="3" fill="#9a9ea2"/>
<g transform="translate(1071,1268) scale(0.9)">
<path d="M0,-14 C-3,-30 -9,-40 -12,-46 M0,-14 C1,-30 5,-40 11,-44 M0,-14 C0,-28 -1,-40 -3,-50 M0,-14 C-5,-24 -12,-28 -14,-30" stroke="#4f9a2a" stroke-width="2" fill="none"/>
<path d="M-2,-16 C-8,-26 -7,-36 -5,-40 C-3,-30 0,-22 1,-16 Z M2,-16 C6,-26 9,-32 12,-36 C8,-28 5,-22 3,-15 Z" fill="#6fbf3a"/>
<circle cx="-12" cy="-47" r="4" fill="#f4f0f2"/><circle cx="-12" cy="-47" r="1.5" fill="#e7a9c4"/>
<circle cx="11" cy="-45" r="4" fill="#f4f0f2"/><circle cx="11" cy="-45" r="1.5" fill="#e7a9c4"/>
<circle cx="-3" cy="-51" r="4" fill="#f4f0f2"/><circle cx="-3" cy="-51" r="1.5" fill="#e7a9c4"/>
<circle cx="-14" cy="-31" r="4" fill="#f4f0f2"/><circle cx="-14" cy="-31" r="1.5" fill="#e7a9c4"/>
<path d="M-10,-16 H10 L7,0 H-7 Z" fill="#7a4424"/><rect x="-10.5" y="-17" width="21" height="3.5" rx="1.5" fill="#5a2f17"/>
</g>
<g transform="translate(1104,1270) scale(0.62)">
<path d="M0,-14 C-3,-30 -9,-40 -12,-46 M0,-14 C1,-30 5,-40 11,-44 M0,-14 C0,-28 -1,-40 -3,-50 M0,-14 C-5,-24 -12,-28 -14,-30" stroke="#4f9a2a" stroke-width="2" fill="none"/>
<path d="M-2,-16 C-8,-26 -7,-36 -5,-40 C-3,-30 0,-22 1,-16 Z M2,-16 C6,-26 9,-32 12,-36 C8,-28 5,-22 3,-15 Z" fill="#6fbf3a"/>
<circle cx="-12" cy="-47" r="4" fill="#f4f0f2"/><circle cx="-12" cy="-47" r="1.5" fill="#e7a9c4"/>
<circle cx="11" cy="-45" r="4" fill="#f4f0f2"/><circle cx="11" cy="-45" r="1.5" fill="#e7a9c4"/>
<circle cx="-3" cy="-51" r="4" fill="#f4f0f2"/><circle cx="-3" cy="-51" r="1.5" fill="#e7a9c4"/>
<circle cx="-14" cy="-31" r="4" fill="#f4f0f2"/><circle cx="-14" cy="-31" r="1.5" fill="#e7a9c4"/>
<path d="M-10,-16 H10 L7,0 H-7 Z" fill="#7a4424"/><rect x="-10.5" y="-17" width="21" height="3.5" rx="1.5" fill="#5a2f17"/>
</g>
<rect x="1098" y="1265" width="42" height="82" rx="5.5" fill="#1784e0"/>
<rect x="1100.2" y="1273.0" width="37.6" height="65.5" fill="#ffffff"/>
<rect x="1113.3" y="1341.0" width="11.5" height="3.0" rx="1.5" fill="#dff3ff"/>
<g transform="translate(1098,1265) scale(1.000,1.000)" stroke="#1784e0" stroke-width="3" fill="none" stroke-linecap="round" stroke-linejoin="round"><path d="M5.2,33.5 H25.8 L15.5,46 Z"/><path d="M15.5,35 V60"/><path d="M21.9,51 V60 M28.2,45 V60 M34.6,39.5 V60"/></g>
<rect x="1153.7" y="1224" width="210.3" height="4" fill="#dcdcdc"/>
<rect x="1155" y="1228" width="207" height="63" fill="url(#redg)"/>
<rect x="1155" y="1228" width="2" height="63" fill="#f0f0f0"/>
<line x1="1184" y1="1230" x2="1184" y2="1290" stroke="#a5141d" stroke-width="0.8"/><line x1="1222" y1="1230" x2="1222" y2="1290" stroke="#a5141d" stroke-width="0.8"/><line x1="1262" y1="1230" x2="1262" y2="1290" stroke="#a5141d" stroke-width="0.8"/>
<path d="M1182,1250 V1262 M1215,1250 V1262 M1219,1250 V1262" stroke="#f3d7d7" stroke-width="1.2"/>
<rect x="1249" y="1229" width="58" height="61" fill="#b3141f"/>
<rect x="1249" y="1245" width="58" height="3" fill="#f2f2f2"/>
<rect x="1251.0" y="1237" width="5.6" height="8" rx="1" fill="#f6f3ee"/>
<rect x="1258.8" y="1237" width="5.6" height="8" rx="1" fill="#f6f3ee"/>
<rect x="1266.6" y="1237" width="5.6" height="8" rx="1" fill="#f6f3ee"/>
<rect x="1274.4" y="1237" width="5.6" height="8" rx="1" fill="#f6f3ee"/>
<rect x="1282.2" y="1237" width="5.6" height="8" rx="1" fill="#f6f3ee"/>
<rect x="1290.0" y="1237" width="5.6" height="8" rx="1" fill="#f6f3ee"/>
<rect x="1297.8" y="1237" width="5.6" height="8" rx="1" fill="#f6f3ee"/>
<rect x="1249" y="1265" width="58" height="3" fill="#f2f2f2"/>
<rect x="1251.0" y="1257" width="5.6" height="8" rx="1" fill="#f6f3ee"/>
<rect x="1258.8" y="1257" width="5.6" height="8" rx="1" fill="#f6f3ee"/>
<rect x="1266.6" y="1257" width="5.6" height="8" rx="1" fill="#f6f3ee"/>
<rect x="1274.4" y="1257" width="5.6" height="8" rx="1" fill="#f6f3ee"/>
<rect x="1282.2" y="1257" width="5.6" height="8" rx="1" fill="#f6f3ee"/>
<rect x="1290.0" y="1257" width="5.6" height="8" rx="1" fill="#f6f3ee"/>
<rect x="1297.8" y="1257" width="5.6" height="8" rx="1" fill="#f6f3ee"/>
<rect x="1249" y="1285" width="58" height="3" fill="#f2f2f2"/>
<rect x="1251.0" y="1277" width="5.6" height="8" rx="1" fill="#f6f3ee"/>
<rect x="1258.8" y="1277" width="5.6" height="8" rx="1" fill="#f6f3ee"/>
<rect x="1266.6" y="1277" width="5.6" height="8" rx="1" fill="#f6f3ee"/>
<rect x="1274.4" y="1277" width="5.6" height="8" rx="1" fill="#f6f3ee"/>
<rect x="1282.2" y="1277" width="5.6" height="8" rx="1" fill="#f6f3ee"/>
<rect x="1290.0" y="1277" width="5.6" height="8" rx="1" fill="#f6f3ee"/>
<rect x="1297.8" y="1277" width="5.6" height="8" rx="1" fill="#f6f3ee"/>
<rect x="1308" y="1229" width="54" height="61" fill="#b71620"/>
<path d="M1330,1290 H1345 V1247 Q1345,1232 1337.5,1232 Q1330,1232 1330,1247 Z" fill="url(#whiteg)"/>
<path d="M1311,1290 Q1320,1272 1330,1265 H1345 Q1355,1272 1364,1290 Z" fill="url(#whiteg)"/>
<rect x="1311" y="1289" width="53" height="2.5" fill="#c9c9c9"/>
<rect x="1152.6" y="1337.5" width="157.4" height="6" fill="#f0f0f0"/>
<rect x="1154" y="1343.5" width="156" height="70.3" fill="url(#redg)"/>
<path d="M1185,1344 V1413 M1208,1344 V1413 M1232,1344 V1413 M1256,1344 V1413 M1280,1344 V1413" stroke="#a5141d" stroke-width="0.8"/>
<path d="M1163,1350.0 H1171 M1293,1350.0 H1301" stroke="#f3d0d0" stroke-width="1.2"/>
<path d="M1154,1354.5 H1185 M1280,1354.5 H1310" stroke="#a5141d" stroke-width="0.6"/>
<path d="M1163,1360.5 H1171 M1293,1360.5 H1301" stroke="#f3d0d0" stroke-width="1.2"/>
<path d="M1154,1365.0 H1185 M1280,1365.0 H1310" stroke="#a5141d" stroke-width="0.6"/>
<path d="M1163,1371.0 H1171 M1293,1371.0 H1301" stroke="#f3d0d0" stroke-width="1.2"/>
<path d="M1154,1375.5 H1185 M1280,1375.5 H1310" stroke="#a5141d" stroke-width="0.6"/>
<path d="M1163,1381.5 H1171 M1293,1381.5 H1301" stroke="#f3d0d0" stroke-width="1.2"/>
<path d="M1154,1386.0 H1185 M1280,1386.0 H1310" stroke="#a5141d" stroke-width="0.6"/>
<path d="M1163,1392.0 H1171 M1293,1392.0 H1301" stroke="#f3d0d0" stroke-width="1.2"/>
<path d="M1154,1396.5 H1185 M1280,1396.5 H1310" stroke="#a5141d" stroke-width="0.6"/>
<path d="M1163,1402.5 H1171 M1293,1402.5 H1301" stroke="#f3d0d0" stroke-width="1.2"/>
<path d="M1154,1407.0 H1185 M1280,1407.0 H1310" stroke="#a5141d" stroke-width="0.6"/>
<path d="M1203,1370 V1384 M1212,1370 V1384 M1251,1370 V1384 M1260,1370 V1384" stroke="#f3d0d0" stroke-width="1.3"/>
<rect x="1156" y="1319.6" width="41.4" height="24" rx="2" fill="#dcdde0"/><rect x="1159" y="1323" width="26" height="17" rx="2" fill="#2b2d31"/>
<rect x="1204" y="1325" width="17" height="14" rx="3" fill="#cfd1d4"/><rect x="1207" y="1321" width="11" height="5" fill="#f2c14e"/>
<rect x="1232" y="1335" width="32" height="3" fill="#b8babd"/><rect x="1250" y="1326" width="2" height="9" fill="#ddd"/>
<rect x="1286" y="1318" width="8" height="18" rx="2" fill="#e3e3e3"/><rect x="1285" y="1328" width="10" height="10" fill="#c7c7c7"/>
<rect x="1308.8" y="1339" width="51.7" height="73.6" fill="#c3c5c8"/>
<rect x="1308.8" y="1339" width="51.7" height="4" fill="#2b2d31"/>
<rect x="1312" y="1348" width="45" height="10" fill="#aeb1b4"/><rect x="1330" y="1350" width="10" height="4" fill="#3a5fa0"/>
<rect x="1312" y="1363" width="45" height="36" rx="2" fill="#2f3135"/><rect x="1315" y="1372" width="39" height="2" fill="#5a5d62"/>
<path d="M1322,1330 H1344 V1338 Q1333,1341 1322,1338 Z" fill="#c9cbcd"/>
<line x1="417.6" y1="1238" x2="417.6" y2="1276" stroke="#2e2e2e" stroke-width="1"/><circle cx="417.6" cy="1238.5" r="1.3" fill="#2e2e2e"/>
<ellipse cx="417.6" cy="1281.5" rx="3.6" ry="5" fill="#f1d45c"/><rect x="415.6" y="1275" width="4" height="3" fill="#555"/>
<rect x="307.6" y="1307" width="42" height="82" rx="5.5" fill="#1784e0"/>
<rect x="309.8" y="1315.0" width="37.6" height="65.5" fill="#ffffff"/>
<rect x="322.9" y="1383.0" width="11.5" height="3.0" rx="1.5" fill="#dff3ff"/>
<g transform="translate(307.6,1307) scale(1.000,1.000)" stroke="#1784e0" stroke-width="3" fill="none" stroke-linecap="round" stroke-linejoin="round"><path d="M5.2,33.5 H25.8 L15.5,46 Z"/><path d="M15.5,35 V60"/><path d="M21.9,51 V60 M28.2,45 V60 M34.6,39.5 V60"/></g>
<rect x="299.6" y="1399.5" width="34.0" height="30.5" fill="#d49a55"/>
<polygon points="299.6,1405.5 303.6,1399.5 333.6,1399.5 333.6,1405.5" fill="#e4ad68"/>
<rect x="329.6" y="1399.5" width="4" height="30.5" fill="#c08646"/>
<line x1="299.6" y1="1405.5" x2="329.6" y2="1405.5" stroke="#c48c4c" stroke-width="0.8"/>
<polygon points="310.1,1413.5 316.1,1413.5 321.1,1399.5 315.1,1399.5" fill="#f2d6a0"/>
<rect x="271" y="1427.4" width="28.600000000000023" height="31.59999999999991" fill="#d49a55"/>
<polygon points="271,1433.4 275,1427.4 299.6,1427.4 299.6,1433.4" fill="#e4ad68"/>
<rect x="296.6" y="1427.4" width="3" height="31.59999999999991" fill="#c08646"/>
<line x1="271" y1="1433.4" x2="296.6" y2="1433.4" stroke="#c48c4c" stroke-width="0.8"/>
<polygon points="279.52,1441.4 285.52,1441.4 290.52,1427.4 284.52,1427.4" fill="#f2d6a0"/>
<rect x="271" y="1459" width="28.600000000000023" height="30" fill="#d49a55"/>
<polygon points="271,1459 275,1459 299.6,1459 299.6,1459" fill="#e4ad68"/>
<rect x="296.6" y="1459" width="3" height="30" fill="#c08646"/>
<line x1="271" y1="1459" x2="296.6" y2="1459" stroke="#c48c4c" stroke-width="0.8"/>
<rect x="299.6" y="1430" width="34.0" height="29" fill="#d49a55"/>
<polygon points="299.6,1430 303.6,1430 333.6,1430 333.6,1430" fill="#e4ad68"/>
<rect x="329.6" y="1430" width="4" height="29" fill="#c08646"/>
<line x1="299.6" y1="1430" x2="329.6" y2="1430" stroke="#c48c4c" stroke-width="0.8"/>
<rect x="299.6" y="1459" width="34.0" height="30" fill="#d49a55"/>
<polygon points="299.6,1459 303.6,1459 333.6,1459 333.6,1459" fill="#e4ad68"/>
<rect x="329.6" y="1459" width="4" height="30" fill="#c08646"/>
<line x1="299.6" y1="1459" x2="329.6" y2="1459" stroke="#c48c4c" stroke-width="0.8"/>
<rect x="282" y="1462" width="4.5" height="4.5" fill="#f2d6a0"/>
<rect x="312" y="1433" width="4.5" height="4.5" fill="#f2d6a0"/>
<rect x="312" y="1462" width="4.5" height="4.5" fill="#f2d6a0"/>
<rect x="363.3" y="1468" width="23.2" height="28.2" rx="7" fill="#26282b"/>
<rect x="516" y="1468" width="22.6" height="28.2" rx="7" fill="#26282b"/>
<path d="M401,1366 Q450,1362 498,1365.5 Q506,1367 512,1380 L520,1396 Q533,1410 537,1430 Q540,1455 537,1470 Q535,1476 525,1476 H375 Q365,1476 364,1470 Q360,1450 364,1430 Q368,1410 381,1396 L389,1380 Q395,1367 401,1366 Z" fill="url(#carg)"/>
<path d="M400.6,1369 Q450,1365 498.8,1368 L512.3,1393.5 H389 Z" fill="#8cbcd0"/>
<rect x="410" y="1382" width="20" height="12" rx="4" fill="#9ec7d6"/><rect x="472" y="1382" width="20" height="12" rx="4" fill="#9ec7d6"/>
<rect x="440" y="1368.5" width="26" height="2.5" fill="#b3303a"/>
<path d="M389.7,1393.5 H511.6 L505,1430 Q502,1437 495,1437.2 H406 Q399,1437 396,1430 Z" fill="#1aa0df"/>
<path d="M389.7,1393.5 H511.6 L510,1400 H391 Z" fill="#1590cc"/>
<path d="M373.6,1404 Q385,1401 390,1403 L396,1425.6 H376 Q372,1418 373.6,1404 Z" fill="#c3202c"/>
<path d="M528.3,1404 Q517,1401 511,1403 L505.9,1425.6 H526 Q530,1418 528.3,1404 Z" fill="#c3202c"/>
<rect x="386" y="1416" width="4" height="4" fill="#e08f9a"/><rect x="511" y="1416" width="4" height="4" fill="#e08f9a"/>
<path d="M366,1398 Q372,1394 382,1396 L381,1405 Q370,1406 366,1398 Z" fill="#9fd0ea" stroke="#1c5f86" stroke-width="0.8"/>
<path d="M536,1398 Q530,1394 520,1396 L521,1405 Q532,1406 536,1398 Z" fill="#9fd0ea" stroke="#1c5f86" stroke-width="0.8"/>
<path d="M380,1450 Q450,1447 522,1450 Q520,1470 505,1474 H395 Q382,1470 380,1450 Z" fill="#0f86c2"/>
<rect x="405" y="1459.6" width="91.2" height="5.8" rx="2" fill="#4b5a63"/>
<circle cx="395.4" cy="1472.5" r="3.6" fill="#2a2a2a" stroke="#f2f2f2" stroke-width="1"/>
<g transform="translate(1004,1412) scale(0.78)">
<path d="M0,-14 C-3,-30 -9,-40 -12,-46 M0,-14 C1,-30 5,-40 11,-44 M0,-14 C0,-28 -1,-40 -3,-50 M0,-14 C-5,-24 -12,-28 -14,-30" stroke="#4f9a2a" stroke-width="2" fill="none"/>
<path d="M-2,-16 C-8,-26 -7,-36 -5,-40 C-3,-30 0,-22 1,-16 Z M2,-16 C6,-26 9,-32 12,-36 C8,-28 5,-22 3,-15 Z" fill="#6fbf3a"/>
<circle cx="-12" cy="-47" r="4" fill="#f4f0f2"/><circle cx="-12" cy="-47" r="1.5" fill="#e7a9c4"/>
<circle cx="11" cy="-45" r="4" fill="#f4f0f2"/><circle cx="11" cy="-45" r="1.5" fill="#e7a9c4"/>
<circle cx="-3" cy="-51" r="4" fill="#f4f0f2"/><circle cx="-3" cy="-51" r="1.5" fill="#e7a9c4"/>
<circle cx="-14" cy="-31" r="4" fill="#f4f0f2"/><circle cx="-14" cy="-31" r="1.5" fill="#e7a9c4"/>
<path d="M-10,-16 H10 L7,0 H-7 Z" fill="#7a4424"/><rect x="-10.5" y="-17" width="21" height="3.5" rx="1.5" fill="#5a2f17"/>
</g></svg></body></html>
